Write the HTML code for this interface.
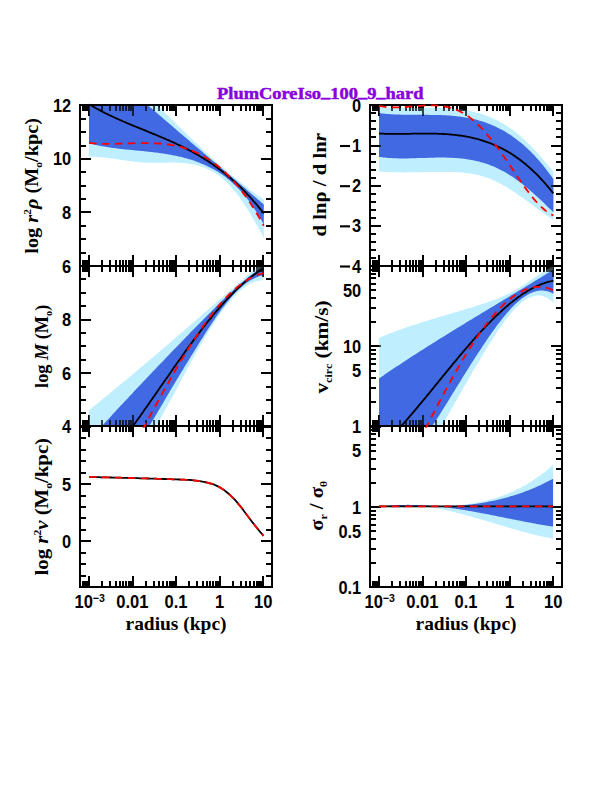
<!DOCTYPE html>
<html><head><meta charset="utf-8"><style>
html,body{margin:0;padding:0;background:#fff;overflow:hidden;}
svg{display:block;}
</style></head><body>
<svg width="612" height="792" viewBox="0 0 612 792">
<rect width="612" height="792" fill="#fff"/>
<path d="M83.00 266.00L83.00 260.00M83.00 105.00L83.00 111.00M85.00 266.00L85.00 260.00M85.00 105.00L85.00 111.00M87.00 266.00L87.00 260.00M87.00 105.00L87.00 111.00M89.00 266.00L89.00 255.00M89.00 105.00L89.00 116.00M102.00 266.00L102.00 260.00M102.00 105.00L102.00 111.00M110.00 266.00L110.00 260.00M110.00 105.00L110.00 111.00M116.00 266.00L116.00 260.00M116.00 105.00L116.00 111.00M120.00 266.00L120.00 260.00M120.00 105.00L120.00 111.00M123.00 266.00L123.00 260.00M123.00 105.00L123.00 111.00M126.00 266.00L126.00 260.00M126.00 105.00L126.00 111.00M129.00 266.00L129.00 260.00M129.00 105.00L129.00 111.00M131.00 266.00L131.00 260.00M131.00 105.00L131.00 111.00M133.00 266.00L133.00 255.00M133.00 105.00L133.00 116.00M146.00 266.00L146.00 260.00M146.00 105.00L146.00 111.00M154.00 266.00L154.00 260.00M154.00 105.00L154.00 111.00M159.00 266.00L159.00 260.00M159.00 105.00L159.00 111.00M163.00 266.00L163.00 260.00M163.00 105.00L163.00 111.00M167.00 266.00L167.00 260.00M167.00 105.00L167.00 111.00M170.00 266.00L170.00 260.00M170.00 105.00L170.00 111.00M172.00 266.00L172.00 260.00M172.00 105.00L172.00 111.00M174.00 266.00L174.00 260.00M174.00 105.00L174.00 111.00M176.00 266.00L176.00 255.00M176.00 105.00L176.00 116.00M189.00 266.00L189.00 260.00M189.00 105.00L189.00 111.00M197.00 266.00L197.00 260.00M197.00 105.00L197.00 111.00M203.00 266.00L203.00 260.00M203.00 105.00L203.00 111.00M207.00 266.00L207.00 260.00M207.00 105.00L207.00 111.00M210.00 266.00L210.00 260.00M210.00 105.00L210.00 111.00M213.00 266.00L213.00 260.00M213.00 105.00L213.00 111.00M216.00 266.00L216.00 260.00M216.00 105.00L216.00 111.00M218.00 266.00L218.00 260.00M218.00 105.00L218.00 111.00M220.00 266.00L220.00 255.00M220.00 105.00L220.00 116.00M233.00 266.00L233.00 260.00M233.00 105.00L233.00 111.00M241.00 266.00L241.00 260.00M241.00 105.00L241.00 111.00M246.00 266.00L246.00 260.00M246.00 105.00L246.00 111.00M250.00 266.00L250.00 260.00M250.00 105.00L250.00 111.00M254.00 266.00L254.00 260.00M254.00 105.00L254.00 111.00M257.00 266.00L257.00 260.00M257.00 105.00L257.00 111.00M259.00 266.00L259.00 260.00M259.00 105.00L259.00 111.00M261.00 266.00L261.00 260.00M261.00 105.00L261.00 111.00M263.00 266.00L263.00 255.00M263.00 105.00L263.00 116.00M80.00 266.00L91.00 266.00M272.00 266.00L261.00 266.00M80.00 253.00L86.00 253.00M272.00 253.00L266.00 253.00M80.00 239.00L86.00 239.00M272.00 239.00L266.00 239.00M80.00 226.00L86.00 226.00M272.00 226.00L266.00 226.00M80.00 212.00L91.00 212.00M272.00 212.00L261.00 212.00M80.00 199.00L86.00 199.00M272.00 199.00L266.00 199.00M80.00 186.00L86.00 186.00M272.00 186.00L266.00 186.00M80.00 172.00L86.00 172.00M272.00 172.00L266.00 172.00M80.00 159.00L91.00 159.00M272.00 159.00L261.00 159.00M80.00 146.00L86.00 146.00M272.00 146.00L266.00 146.00M80.00 132.00L86.00 132.00M272.00 132.00L266.00 132.00M80.00 119.00L86.00 119.00M272.00 119.00L266.00 119.00M80.00 105.00L91.00 105.00M272.00 105.00L261.00 105.00M83.00 426.00L83.00 420.00M83.00 266.00L83.00 272.00M85.00 426.00L85.00 420.00M85.00 266.00L85.00 272.00M87.00 426.00L87.00 420.00M87.00 266.00L87.00 272.00M89.00 426.00L89.00 415.00M89.00 266.00L89.00 277.00M102.00 426.00L102.00 420.00M102.00 266.00L102.00 272.00M110.00 426.00L110.00 420.00M110.00 266.00L110.00 272.00M116.00 426.00L116.00 420.00M116.00 266.00L116.00 272.00M120.00 426.00L120.00 420.00M120.00 266.00L120.00 272.00M123.00 426.00L123.00 420.00M123.00 266.00L123.00 272.00M126.00 426.00L126.00 420.00M126.00 266.00L126.00 272.00M129.00 426.00L129.00 420.00M129.00 266.00L129.00 272.00M131.00 426.00L131.00 420.00M131.00 266.00L131.00 272.00M133.00 426.00L133.00 415.00M133.00 266.00L133.00 277.00M146.00 426.00L146.00 420.00M146.00 266.00L146.00 272.00M154.00 426.00L154.00 420.00M154.00 266.00L154.00 272.00M159.00 426.00L159.00 420.00M159.00 266.00L159.00 272.00M163.00 426.00L163.00 420.00M163.00 266.00L163.00 272.00M167.00 426.00L167.00 420.00M167.00 266.00L167.00 272.00M170.00 426.00L170.00 420.00M170.00 266.00L170.00 272.00M172.00 426.00L172.00 420.00M172.00 266.00L172.00 272.00M174.00 426.00L174.00 420.00M174.00 266.00L174.00 272.00M176.00 426.00L176.00 415.00M176.00 266.00L176.00 277.00M189.00 426.00L189.00 420.00M189.00 266.00L189.00 272.00M197.00 426.00L197.00 420.00M197.00 266.00L197.00 272.00M203.00 426.00L203.00 420.00M203.00 266.00L203.00 272.00M207.00 426.00L207.00 420.00M207.00 266.00L207.00 272.00M210.00 426.00L210.00 420.00M210.00 266.00L210.00 272.00M213.00 426.00L213.00 420.00M213.00 266.00L213.00 272.00M216.00 426.00L216.00 420.00M216.00 266.00L216.00 272.00M218.00 426.00L218.00 420.00M218.00 266.00L218.00 272.00M220.00 426.00L220.00 415.00M220.00 266.00L220.00 277.00M233.00 426.00L233.00 420.00M233.00 266.00L233.00 272.00M241.00 426.00L241.00 420.00M241.00 266.00L241.00 272.00M246.00 426.00L246.00 420.00M246.00 266.00L246.00 272.00M250.00 426.00L250.00 420.00M250.00 266.00L250.00 272.00M254.00 426.00L254.00 420.00M254.00 266.00L254.00 272.00M257.00 426.00L257.00 420.00M257.00 266.00L257.00 272.00M259.00 426.00L259.00 420.00M259.00 266.00L259.00 272.00M261.00 426.00L261.00 420.00M261.00 266.00L261.00 272.00M263.00 426.00L263.00 415.00M263.00 266.00L263.00 277.00M80.00 427.00L91.00 427.00M272.00 427.00L261.00 427.00M80.00 413.00L86.00 413.00M272.00 413.00L266.00 413.00M80.00 400.00L86.00 400.00M272.00 400.00L266.00 400.00M80.00 387.00L86.00 387.00M272.00 387.00L266.00 387.00M80.00 373.00L91.00 373.00M272.00 373.00L261.00 373.00M80.00 360.00L86.00 360.00M272.00 360.00L266.00 360.00M80.00 346.00L86.00 346.00M272.00 346.00L266.00 346.00M80.00 333.00L86.00 333.00M272.00 333.00L266.00 333.00M80.00 320.00L91.00 320.00M272.00 320.00L261.00 320.00M80.00 306.00L86.00 306.00M272.00 306.00L266.00 306.00M80.00 293.00L86.00 293.00M272.00 293.00L266.00 293.00M80.00 279.00L86.00 279.00M272.00 279.00L266.00 279.00M80.00 266.00L91.00 266.00M272.00 266.00L261.00 266.00M83.00 587.00L83.00 581.00M83.00 426.00L83.00 432.00M85.00 587.00L85.00 581.00M85.00 426.00L85.00 432.00M87.00 587.00L87.00 581.00M87.00 426.00L87.00 432.00M89.00 587.00L89.00 576.00M89.00 426.00L89.00 437.00M102.00 587.00L102.00 581.00M102.00 426.00L102.00 432.00M110.00 587.00L110.00 581.00M110.00 426.00L110.00 432.00M116.00 587.00L116.00 581.00M116.00 426.00L116.00 432.00M120.00 587.00L120.00 581.00M120.00 426.00L120.00 432.00M123.00 587.00L123.00 581.00M123.00 426.00L123.00 432.00M126.00 587.00L126.00 581.00M126.00 426.00L126.00 432.00M129.00 587.00L129.00 581.00M129.00 426.00L129.00 432.00M131.00 587.00L131.00 581.00M131.00 426.00L131.00 432.00M133.00 587.00L133.00 576.00M133.00 426.00L133.00 437.00M146.00 587.00L146.00 581.00M146.00 426.00L146.00 432.00M154.00 587.00L154.00 581.00M154.00 426.00L154.00 432.00M159.00 587.00L159.00 581.00M159.00 426.00L159.00 432.00M163.00 587.00L163.00 581.00M163.00 426.00L163.00 432.00M167.00 587.00L167.00 581.00M167.00 426.00L167.00 432.00M170.00 587.00L170.00 581.00M170.00 426.00L170.00 432.00M172.00 587.00L172.00 581.00M172.00 426.00L172.00 432.00M174.00 587.00L174.00 581.00M174.00 426.00L174.00 432.00M176.00 587.00L176.00 576.00M176.00 426.00L176.00 437.00M189.00 587.00L189.00 581.00M189.00 426.00L189.00 432.00M197.00 587.00L197.00 581.00M197.00 426.00L197.00 432.00M203.00 587.00L203.00 581.00M203.00 426.00L203.00 432.00M207.00 587.00L207.00 581.00M207.00 426.00L207.00 432.00M210.00 587.00L210.00 581.00M210.00 426.00L210.00 432.00M213.00 587.00L213.00 581.00M213.00 426.00L213.00 432.00M216.00 587.00L216.00 581.00M216.00 426.00L216.00 432.00M218.00 587.00L218.00 581.00M218.00 426.00L218.00 432.00M220.00 587.00L220.00 576.00M220.00 426.00L220.00 437.00M233.00 587.00L233.00 581.00M233.00 426.00L233.00 432.00M241.00 587.00L241.00 581.00M241.00 426.00L241.00 432.00M246.00 587.00L246.00 581.00M246.00 426.00L246.00 432.00M250.00 587.00L250.00 581.00M250.00 426.00L250.00 432.00M254.00 587.00L254.00 581.00M254.00 426.00L254.00 432.00M257.00 587.00L257.00 581.00M257.00 426.00L257.00 432.00M259.00 587.00L259.00 581.00M259.00 426.00L259.00 432.00M261.00 587.00L261.00 581.00M261.00 426.00L261.00 432.00M263.00 587.00L263.00 576.00M263.00 426.00L263.00 437.00M80.00 587.00L86.00 587.00M272.00 587.00L266.00 587.00M80.00 576.00L86.00 576.00M272.00 576.00L266.00 576.00M80.00 564.00L86.00 564.00M272.00 564.00L266.00 564.00M80.00 553.00L86.00 553.00M272.00 553.00L266.00 553.00M80.00 541.00L91.00 541.00M272.00 541.00L261.00 541.00M80.00 530.00L86.00 530.00M272.00 530.00L266.00 530.00M80.00 518.00L86.00 518.00M272.00 518.00L266.00 518.00M80.00 507.00L86.00 507.00M272.00 507.00L266.00 507.00M80.00 496.00L86.00 496.00M272.00 496.00L266.00 496.00M80.00 484.00L91.00 484.00M272.00 484.00L261.00 484.00M80.00 473.00L86.00 473.00M272.00 473.00L266.00 473.00M80.00 461.00L86.00 461.00M272.00 461.00L266.00 461.00M80.00 450.00L86.00 450.00M272.00 450.00L266.00 450.00M80.00 438.00L86.00 438.00M272.00 438.00L266.00 438.00M80.00 427.00L91.00 427.00M272.00 427.00L261.00 427.00M373.00 266.00L373.00 260.00M373.00 105.00L373.00 111.00M375.00 266.00L375.00 260.00M375.00 105.00L375.00 111.00M377.00 266.00L377.00 260.00M377.00 105.00L377.00 111.00M379.00 266.00L379.00 255.00M379.00 105.00L379.00 116.00M392.00 266.00L392.00 260.00M392.00 105.00L392.00 111.00M400.00 266.00L400.00 260.00M400.00 105.00L400.00 111.00M406.00 266.00L406.00 260.00M406.00 105.00L406.00 111.00M410.00 266.00L410.00 260.00M410.00 105.00L410.00 111.00M413.00 266.00L413.00 260.00M413.00 105.00L413.00 111.00M416.00 266.00L416.00 260.00M416.00 105.00L416.00 111.00M419.00 266.00L419.00 260.00M419.00 105.00L419.00 111.00M421.00 266.00L421.00 260.00M421.00 105.00L421.00 111.00M423.00 266.00L423.00 255.00M423.00 105.00L423.00 116.00M436.00 266.00L436.00 260.00M436.00 105.00L436.00 111.00M444.00 266.00L444.00 260.00M444.00 105.00L444.00 111.00M449.00 266.00L449.00 260.00M449.00 105.00L449.00 111.00M453.00 266.00L453.00 260.00M453.00 105.00L453.00 111.00M457.00 266.00L457.00 260.00M457.00 105.00L457.00 111.00M460.00 266.00L460.00 260.00M460.00 105.00L460.00 111.00M462.00 266.00L462.00 260.00M462.00 105.00L462.00 111.00M464.00 266.00L464.00 260.00M464.00 105.00L464.00 111.00M466.00 266.00L466.00 255.00M466.00 105.00L466.00 116.00M479.00 266.00L479.00 260.00M479.00 105.00L479.00 111.00M487.00 266.00L487.00 260.00M487.00 105.00L487.00 111.00M493.00 266.00L493.00 260.00M493.00 105.00L493.00 111.00M497.00 266.00L497.00 260.00M497.00 105.00L497.00 111.00M500.00 266.00L500.00 260.00M500.00 105.00L500.00 111.00M503.00 266.00L503.00 260.00M503.00 105.00L503.00 111.00M506.00 266.00L506.00 260.00M506.00 105.00L506.00 111.00M508.00 266.00L508.00 260.00M508.00 105.00L508.00 111.00M510.00 266.00L510.00 255.00M510.00 105.00L510.00 116.00M523.00 266.00L523.00 260.00M523.00 105.00L523.00 111.00M531.00 266.00L531.00 260.00M531.00 105.00L531.00 111.00M536.00 266.00L536.00 260.00M536.00 105.00L536.00 111.00M540.00 266.00L540.00 260.00M540.00 105.00L540.00 111.00M544.00 266.00L544.00 260.00M544.00 105.00L544.00 111.00M547.00 266.00L547.00 260.00M547.00 105.00L547.00 111.00M549.00 266.00L549.00 260.00M549.00 105.00L549.00 111.00M551.00 266.00L551.00 260.00M551.00 105.00L551.00 111.00M553.00 266.00L553.00 255.00M553.00 105.00L553.00 116.00M370.00 266.00L381.00 266.00M562.00 266.00L551.00 266.00M370.00 258.00L376.00 258.00M562.00 258.00L556.00 258.00M370.00 250.00L376.00 250.00M562.00 250.00L556.00 250.00M370.00 242.00L376.00 242.00M562.00 242.00L556.00 242.00M370.00 234.00L376.00 234.00M562.00 234.00L556.00 234.00M370.00 226.00L381.00 226.00M562.00 226.00L551.00 226.00M370.00 218.00L376.00 218.00M562.00 218.00L556.00 218.00M370.00 210.00L376.00 210.00M562.00 210.00L556.00 210.00M370.00 202.00L376.00 202.00M562.00 202.00L556.00 202.00M370.00 194.00L376.00 194.00M562.00 194.00L556.00 194.00M370.00 186.00L381.00 186.00M562.00 186.00L551.00 186.00M370.00 178.00L376.00 178.00M562.00 178.00L556.00 178.00M370.00 170.00L376.00 170.00M562.00 170.00L556.00 170.00M370.00 162.00L376.00 162.00M562.00 162.00L556.00 162.00M370.00 154.00L376.00 154.00M562.00 154.00L556.00 154.00M370.00 146.00L381.00 146.00M562.00 146.00L551.00 146.00M370.00 137.00L376.00 137.00M562.00 137.00L556.00 137.00M370.00 129.00L376.00 129.00M562.00 129.00L556.00 129.00M370.00 121.00L376.00 121.00M562.00 121.00L556.00 121.00M370.00 113.00L376.00 113.00M562.00 113.00L556.00 113.00M370.00 105.00L381.00 105.00M562.00 105.00L551.00 105.00M373.00 426.00L373.00 420.00M373.00 266.00L373.00 272.00M375.00 426.00L375.00 420.00M375.00 266.00L375.00 272.00M377.00 426.00L377.00 420.00M377.00 266.00L377.00 272.00M379.00 426.00L379.00 415.00M379.00 266.00L379.00 277.00M392.00 426.00L392.00 420.00M392.00 266.00L392.00 272.00M400.00 426.00L400.00 420.00M400.00 266.00L400.00 272.00M406.00 426.00L406.00 420.00M406.00 266.00L406.00 272.00M410.00 426.00L410.00 420.00M410.00 266.00L410.00 272.00M413.00 426.00L413.00 420.00M413.00 266.00L413.00 272.00M416.00 426.00L416.00 420.00M416.00 266.00L416.00 272.00M419.00 426.00L419.00 420.00M419.00 266.00L419.00 272.00M421.00 426.00L421.00 420.00M421.00 266.00L421.00 272.00M423.00 426.00L423.00 415.00M423.00 266.00L423.00 277.00M436.00 426.00L436.00 420.00M436.00 266.00L436.00 272.00M444.00 426.00L444.00 420.00M444.00 266.00L444.00 272.00M449.00 426.00L449.00 420.00M449.00 266.00L449.00 272.00M453.00 426.00L453.00 420.00M453.00 266.00L453.00 272.00M457.00 426.00L457.00 420.00M457.00 266.00L457.00 272.00M460.00 426.00L460.00 420.00M460.00 266.00L460.00 272.00M462.00 426.00L462.00 420.00M462.00 266.00L462.00 272.00M464.00 426.00L464.00 420.00M464.00 266.00L464.00 272.00M466.00 426.00L466.00 415.00M466.00 266.00L466.00 277.00M479.00 426.00L479.00 420.00M479.00 266.00L479.00 272.00M487.00 426.00L487.00 420.00M487.00 266.00L487.00 272.00M493.00 426.00L493.00 420.00M493.00 266.00L493.00 272.00M497.00 426.00L497.00 420.00M497.00 266.00L497.00 272.00M500.00 426.00L500.00 420.00M500.00 266.00L500.00 272.00M503.00 426.00L503.00 420.00M503.00 266.00L503.00 272.00M506.00 426.00L506.00 420.00M506.00 266.00L506.00 272.00M508.00 426.00L508.00 420.00M508.00 266.00L508.00 272.00M510.00 426.00L510.00 415.00M510.00 266.00L510.00 277.00M523.00 426.00L523.00 420.00M523.00 266.00L523.00 272.00M531.00 426.00L531.00 420.00M531.00 266.00L531.00 272.00M536.00 426.00L536.00 420.00M536.00 266.00L536.00 272.00M540.00 426.00L540.00 420.00M540.00 266.00L540.00 272.00M544.00 426.00L544.00 420.00M544.00 266.00L544.00 272.00M547.00 426.00L547.00 420.00M547.00 266.00L547.00 272.00M549.00 426.00L549.00 420.00M549.00 266.00L549.00 272.00M551.00 426.00L551.00 420.00M551.00 266.00L551.00 272.00M553.00 426.00L553.00 415.00M553.00 266.00L553.00 277.00M370.00 427.00L381.00 427.00M562.00 427.00L551.00 427.00M370.00 402.00L376.00 402.00M562.00 402.00L556.00 402.00M370.00 388.00L376.00 388.00M562.00 388.00L556.00 388.00M370.00 378.00L376.00 378.00M562.00 378.00L556.00 378.00M370.00 371.00L376.00 371.00M562.00 371.00L556.00 371.00M370.00 364.00L376.00 364.00M562.00 364.00L556.00 364.00M370.00 359.00L376.00 359.00M562.00 359.00L556.00 359.00M370.00 354.00L376.00 354.00M562.00 354.00L556.00 354.00M370.00 350.00L376.00 350.00M562.00 350.00L556.00 350.00M370.00 346.00L381.00 346.00M562.00 346.00L551.00 346.00M370.00 322.00L376.00 322.00M562.00 322.00L556.00 322.00M370.00 308.00L376.00 308.00M562.00 308.00L556.00 308.00M370.00 298.00L376.00 298.00M562.00 298.00L556.00 298.00M370.00 290.00L376.00 290.00M562.00 290.00L556.00 290.00M370.00 284.00L376.00 284.00M562.00 284.00L556.00 284.00M370.00 278.00L376.00 278.00M562.00 278.00L556.00 278.00M370.00 274.00L376.00 274.00M562.00 274.00L556.00 274.00M370.00 270.00L376.00 270.00M562.00 270.00L556.00 270.00M370.00 266.00L381.00 266.00M562.00 266.00L551.00 266.00M373.00 587.00L373.00 581.00M373.00 426.00L373.00 432.00M375.00 587.00L375.00 581.00M375.00 426.00L375.00 432.00M377.00 587.00L377.00 581.00M377.00 426.00L377.00 432.00M379.00 587.00L379.00 576.00M379.00 426.00L379.00 437.00M392.00 587.00L392.00 581.00M392.00 426.00L392.00 432.00M400.00 587.00L400.00 581.00M400.00 426.00L400.00 432.00M406.00 587.00L406.00 581.00M406.00 426.00L406.00 432.00M410.00 587.00L410.00 581.00M410.00 426.00L410.00 432.00M413.00 587.00L413.00 581.00M413.00 426.00L413.00 432.00M416.00 587.00L416.00 581.00M416.00 426.00L416.00 432.00M419.00 587.00L419.00 581.00M419.00 426.00L419.00 432.00M421.00 587.00L421.00 581.00M421.00 426.00L421.00 432.00M423.00 587.00L423.00 576.00M423.00 426.00L423.00 437.00M436.00 587.00L436.00 581.00M436.00 426.00L436.00 432.00M444.00 587.00L444.00 581.00M444.00 426.00L444.00 432.00M449.00 587.00L449.00 581.00M449.00 426.00L449.00 432.00M453.00 587.00L453.00 581.00M453.00 426.00L453.00 432.00M457.00 587.00L457.00 581.00M457.00 426.00L457.00 432.00M460.00 587.00L460.00 581.00M460.00 426.00L460.00 432.00M462.00 587.00L462.00 581.00M462.00 426.00L462.00 432.00M464.00 587.00L464.00 581.00M464.00 426.00L464.00 432.00M466.00 587.00L466.00 576.00M466.00 426.00L466.00 437.00M479.00 587.00L479.00 581.00M479.00 426.00L479.00 432.00M487.00 587.00L487.00 581.00M487.00 426.00L487.00 432.00M493.00 587.00L493.00 581.00M493.00 426.00L493.00 432.00M497.00 587.00L497.00 581.00M497.00 426.00L497.00 432.00M500.00 587.00L500.00 581.00M500.00 426.00L500.00 432.00M503.00 587.00L503.00 581.00M503.00 426.00L503.00 432.00M506.00 587.00L506.00 581.00M506.00 426.00L506.00 432.00M508.00 587.00L508.00 581.00M508.00 426.00L508.00 432.00M510.00 587.00L510.00 576.00M510.00 426.00L510.00 437.00M523.00 587.00L523.00 581.00M523.00 426.00L523.00 432.00M531.00 587.00L531.00 581.00M531.00 426.00L531.00 432.00M536.00 587.00L536.00 581.00M536.00 426.00L536.00 432.00M540.00 587.00L540.00 581.00M540.00 426.00L540.00 432.00M544.00 587.00L544.00 581.00M544.00 426.00L544.00 432.00M547.00 587.00L547.00 581.00M547.00 426.00L547.00 432.00M549.00 587.00L549.00 581.00M549.00 426.00L549.00 432.00M551.00 587.00L551.00 581.00M551.00 426.00L551.00 432.00M553.00 587.00L553.00 576.00M553.00 426.00L553.00 437.00M370.00 587.00L381.00 587.00M562.00 587.00L551.00 587.00M370.00 563.00L376.00 563.00M562.00 563.00L556.00 563.00M370.00 549.00L376.00 549.00M562.00 549.00L556.00 549.00M370.00 539.00L376.00 539.00M562.00 539.00L556.00 539.00M370.00 531.00L376.00 531.00M562.00 531.00L556.00 531.00M370.00 525.00L376.00 525.00M562.00 525.00L556.00 525.00M370.00 519.00L376.00 519.00M562.00 519.00L556.00 519.00M370.00 515.00L376.00 515.00M562.00 515.00L556.00 515.00M370.00 511.00L376.00 511.00M562.00 511.00L556.00 511.00M370.00 507.00L381.00 507.00M562.00 507.00L551.00 507.00M370.00 483.00L376.00 483.00M562.00 483.00L556.00 483.00M370.00 469.00L376.00 469.00M562.00 469.00L556.00 469.00M370.00 459.00L376.00 459.00M562.00 459.00L556.00 459.00M370.00 451.00L376.00 451.00M562.00 451.00L556.00 451.00M370.00 445.00L376.00 445.00M562.00 445.00L556.00 445.00M370.00 439.00L376.00 439.00M562.00 439.00L556.00 439.00M370.00 434.00L376.00 434.00M562.00 434.00L556.00 434.00M370.00 430.00L376.00 430.00M562.00 430.00L556.00 430.00M370.00 427.00L381.00 427.00M562.00 427.00L551.00 427.00" stroke="#000" stroke-width="2" fill="none"/>
<defs><clipPath id="c00"><rect x="80" y="105" width="192.00" height="160.67"/></clipPath><clipPath id="kc00"><rect x="78.5" y="103.5" width="195.00" height="163.67"/></clipPath><clipPath id="c10"><rect x="80" y="265.67" width="192.00" height="160.66"/></clipPath><clipPath id="kc10"><rect x="78.5" y="264.17" width="195.00" height="163.66"/></clipPath><clipPath id="c20"><rect x="80" y="426.33" width="192.00" height="160.67"/></clipPath><clipPath id="kc20"><rect x="78.5" y="424.83" width="195.00" height="163.67"/></clipPath><clipPath id="c01"><rect x="370" y="105" width="192.00" height="160.67"/></clipPath><clipPath id="kc01"><rect x="368.5" y="103.5" width="195.00" height="163.67"/></clipPath><clipPath id="c11"><rect x="370" y="265.67" width="192.00" height="160.66"/></clipPath><clipPath id="kc11"><rect x="368.5" y="264.17" width="195.00" height="163.66"/></clipPath><clipPath id="c21"><rect x="370" y="426.33" width="192.00" height="160.67"/></clipPath><clipPath id="kc21"><rect x="368.5" y="424.83" width="195.00" height="163.67"/></clipPath></defs><g clip-path="url(#c00)"><polygon points="89.0,39.2 90.5,40.5 92.0,41.8 93.5,43.2 95.0,44.5 96.5,45.9 98.0,47.3 99.5,48.6 101.0,50.0 102.4,51.4 103.9,52.8 105.4,54.2 106.9,55.6 108.4,57.0 109.9,58.4 111.4,59.8 112.9,61.3 114.4,62.7 115.9,64.1 117.4,65.6 118.9,67.0 120.4,68.5 121.9,69.9 123.4,71.4 124.9,72.8 126.4,74.3 127.8,75.7 129.3,77.2 130.8,78.7 132.3,80.2 133.8,81.6 135.3,83.1 136.8,84.6 138.3,86.1 139.8,87.6 141.3,89.0 142.8,90.5 144.3,92.0 145.8,93.5 147.3,95.0 148.8,96.5 150.3,98.0 151.7,99.5 153.2,101.0 154.7,102.5 156.2,103.9 157.7,105.4 159.2,106.9 160.7,108.4 162.2,109.9 163.7,111.4 165.2,112.9 166.7,114.4 168.2,115.8 169.7,117.3 171.2,118.8 172.7,120.3 174.2,121.8 175.7,123.2 177.1,124.7 178.6,126.2 180.1,127.6 181.6,129.1 183.1,130.6 184.6,132.0 186.1,133.5 187.6,134.9 189.1,136.4 190.6,137.8 192.1,139.2 193.6,140.7 195.1,142.1 196.6,143.5 198.1,144.9 199.6,146.3 201.1,147.8 202.5,149.2 204.0,150.5 205.5,151.9 207.0,153.3 208.5,154.7 210.0,156.1 211.5,157.4 213.0,158.8 214.5,160.1 216.0,161.5 217.5,162.8 219.0,164.1 220.5,165.5 222.0,166.8 223.5,168.1 225.0,169.4 226.4,170.7 227.9,171.9 229.4,173.2 230.9,174.5 232.4,175.7 233.9,177.0 235.4,178.2 236.9,179.4 238.4,180.6 239.9,181.8 241.4,183.0 242.9,184.2 244.4,185.4 245.9,186.6 247.4,187.7 248.9,188.9 250.4,190.0 251.8,191.1 253.3,192.2 254.8,193.3 256.3,194.4 257.8,195.5 259.3,196.5 260.8,197.6 262.3,198.6 263.8,199.6 263.8,237.9 262.3,235.1 260.8,232.3 259.3,229.6 257.8,226.9 256.3,224.2 254.8,221.6 253.3,219.0 251.8,216.5 250.4,214.0 248.9,211.5 247.4,209.1 245.9,206.8 244.4,204.5 242.9,202.3 241.4,200.1 239.9,198.0 238.4,196.0 236.9,194.0 235.4,192.1 233.9,190.2 232.4,188.4 230.9,186.8 229.4,185.1 227.9,183.6 226.4,182.1 225.0,180.7 223.5,179.4 222.0,178.1 220.5,176.9 219.0,175.8 217.5,174.7 216.0,173.7 214.5,172.7 213.0,171.8 211.5,171.0 210.0,170.2 208.5,169.5 207.0,168.8 205.5,168.2 204.0,167.6 202.5,167.0 201.1,166.5 199.6,166.0 198.1,165.6 196.6,165.2 195.1,164.8 193.6,164.5 192.1,164.2 190.6,164.0 189.1,163.7 187.6,163.5 186.1,163.3 184.6,163.2 183.1,163.0 181.6,162.9 180.1,162.8 178.6,162.8 177.1,162.7 175.7,162.7 174.2,162.6 172.7,162.6 171.2,162.6 169.7,162.6 168.2,162.6 166.7,162.7 165.2,162.7 163.7,162.7 162.2,162.7 160.7,162.8 159.2,162.8 157.7,162.8 156.2,162.8 154.7,162.8 153.2,162.8 151.7,162.8 150.3,162.8 148.8,162.8 147.3,162.7 145.8,162.7 144.3,162.6 142.8,162.5 141.3,162.4 139.8,162.3 138.3,162.1 136.8,162.0 135.3,161.8 133.8,161.6 132.3,161.5 130.8,161.3 129.3,161.1 127.8,160.8 126.4,160.6 124.9,160.4 123.4,160.2 121.9,160.0 120.4,159.7 118.9,159.5 117.4,159.3 115.9,159.1 114.4,158.8 112.9,158.6 111.4,158.4 109.9,158.2 108.4,158.0 106.9,157.8 105.4,157.7 103.9,157.5 102.4,157.3 101.0,157.2 99.5,157.1 98.0,157.0 96.5,156.9 95.0,156.8 93.5,156.8 92.0,156.7 90.5,156.7 89.0,156.7" fill="#bfefff"/><polygon points="89.0,53.9 90.5,55.2 92.0,56.6 93.5,57.9 95.0,59.2 96.5,60.5 98.0,61.8 99.5,63.2 101.0,64.5 102.4,65.8 103.9,67.1 105.4,68.4 106.9,69.7 108.4,71.0 109.9,72.3 111.4,73.7 112.9,75.0 114.4,76.3 115.9,77.6 117.4,78.9 118.9,80.2 120.4,81.5 121.9,82.8 123.4,84.1 124.9,85.4 126.4,86.7 127.8,88.0 129.3,89.3 130.8,90.6 132.3,91.9 133.8,93.2 135.3,94.5 136.8,95.8 138.3,97.0 139.8,98.3 141.3,99.6 142.8,100.9 144.3,102.2 145.8,103.5 147.3,104.8 148.8,106.1 150.3,107.4 151.7,108.6 153.2,109.9 154.7,111.2 156.2,112.5 157.7,113.8 159.2,115.1 160.7,116.3 162.2,117.6 163.7,118.9 165.2,120.2 166.7,121.5 168.2,122.7 169.7,124.0 171.2,125.3 172.7,126.6 174.2,127.9 175.7,129.1 177.1,130.4 178.6,131.7 180.1,133.0 181.6,134.2 183.1,135.5 184.6,136.8 186.1,138.1 187.6,139.3 189.1,140.6 190.6,141.9 192.1,143.2 193.6,144.4 195.1,145.7 196.6,147.0 198.1,148.3 199.6,149.5 201.1,150.8 202.5,152.1 204.0,153.4 205.5,154.6 207.0,155.9 208.5,157.2 210.0,158.5 211.5,159.7 213.0,161.0 214.5,162.3 216.0,163.6 217.5,164.8 219.0,166.1 220.5,167.4 222.0,168.7 223.5,169.9 225.0,171.2 226.4,172.5 227.9,173.8 229.4,175.0 230.9,176.3 232.4,177.6 233.9,178.9 235.4,180.1 236.9,181.4 238.4,182.7 239.9,184.0 241.4,185.3 242.9,186.5 244.4,187.8 245.9,189.1 247.4,190.4 248.9,191.7 250.4,192.9 251.8,194.2 253.3,195.5 254.8,196.8 256.3,198.1 257.8,199.4 259.3,200.6 260.8,201.9 262.3,203.2 263.8,204.5 263.8,224.4 262.3,221.7 260.8,219.1 259.3,216.6 257.8,214.2 256.3,211.8 254.8,209.5 253.3,207.2 251.8,205.1 250.4,203.0 248.9,201.0 247.4,199.0 245.9,197.1 244.4,195.3 242.9,193.5 241.4,191.8 239.9,190.2 238.4,188.6 236.9,187.1 235.4,185.6 233.9,184.2 232.4,182.8 230.9,181.5 229.4,180.2 227.9,179.0 226.4,177.8 225.0,176.6 223.5,175.6 222.0,174.5 220.5,173.5 219.0,172.5 217.5,171.6 216.0,170.7 214.5,169.8 213.0,169.0 211.5,168.2 210.0,167.4 208.5,166.7 207.0,166.0 205.5,165.3 204.0,164.6 202.5,164.0 201.1,163.4 199.6,162.8 198.1,162.2 196.6,161.7 195.1,161.1 193.6,160.6 192.1,160.1 190.6,159.6 189.1,159.2 187.6,158.7 186.1,158.3 184.6,157.9 183.1,157.5 181.6,157.1 180.1,156.8 178.6,156.4 177.1,156.1 175.7,155.8 174.2,155.5 172.7,155.2 171.2,154.9 169.7,154.6 168.2,154.4 166.7,154.1 165.2,153.9 163.7,153.6 162.2,153.4 160.7,153.2 159.2,153.0 157.7,152.8 156.2,152.6 154.7,152.4 153.2,152.2 151.7,152.1 150.3,151.9 148.8,151.7 147.3,151.6 145.8,151.4 144.3,151.3 142.8,151.1 141.3,151.0 139.8,150.8 138.3,150.7 136.8,150.6 135.3,150.4 133.8,150.3 132.3,150.1 130.8,150.0 129.3,149.8 127.8,149.7 126.4,149.5 124.9,149.4 123.4,149.2 121.9,149.1 120.4,148.9 118.9,148.7 117.4,148.5 115.9,148.3 114.4,148.1 112.9,147.9 111.4,147.7 109.9,147.5 108.4,147.3 106.9,147.1 105.4,146.8 103.9,146.6 102.4,146.3 101.0,146.0 99.5,145.7 98.0,145.4 96.5,145.1 95.0,144.8 93.5,144.5 92.0,144.1 90.5,143.7 89.0,143.3" fill="#4169e1"/></g><g clip-path="url(#c10)"><polygon points="89.0,410.2 90.5,409.0 92.0,407.8 93.5,406.6 95.0,405.4 96.5,404.2 97.9,403.0 99.4,401.8 100.9,400.6 102.4,399.3 103.9,398.1 105.4,396.9 106.9,395.7 108.4,394.5 109.9,393.2 111.4,392.0 112.9,390.8 114.4,389.6 115.8,388.3 117.3,387.1 118.8,385.9 120.3,384.6 121.8,383.4 123.3,382.1 124.8,380.9 126.3,379.7 127.8,378.4 129.3,377.2 130.8,375.9 132.3,374.7 133.7,373.4 135.2,372.2 136.7,370.9 138.2,369.6 139.7,368.4 141.2,367.1 142.7,365.9 144.2,364.6 145.7,363.3 147.2,362.1 148.7,360.8 150.1,359.5 151.6,358.3 153.1,357.0 154.6,355.7 156.1,354.5 157.6,353.2 159.1,351.9 160.6,350.6 162.1,349.4 163.6,348.1 165.1,346.8 166.6,345.5 168.0,344.2 169.5,343.0 171.0,341.7 172.5,340.4 174.0,339.1 175.5,337.8 177.0,336.5 178.5,335.2 180.0,334.0 181.5,332.7 183.0,331.4 184.5,330.1 185.9,328.8 187.4,327.5 188.9,326.2 190.4,324.9 191.9,323.6 193.4,322.4 194.9,321.1 196.4,319.8 197.9,318.5 199.4,317.2 200.9,315.9 202.4,314.6 203.8,313.3 205.3,312.0 206.8,310.7 208.3,309.4 209.8,308.1 211.3,306.8 212.8,305.5 214.3,304.2 215.8,302.9 217.3,301.7 218.8,300.4 220.2,299.1 221.7,297.8 223.2,296.5 224.7,295.2 226.2,293.9 227.7,292.6 229.2,291.3 230.7,290.0 232.2,288.7 233.7,287.4 235.2,286.1 236.7,284.8 238.1,283.6 239.6,282.3 241.1,281.0 242.6,279.7 244.1,278.4 245.6,277.1 247.1,275.8 248.6,274.5 250.1,273.3 251.6,272.0 253.1,270.7 254.6,269.4 256.0,268.1 257.5,266.8 259.0,265.6 260.5,264.3 262.0,263.0 263.5,261.7 263.5,280.3 262.0,280.3 260.5,280.4 259.0,280.6 257.5,280.9 256.0,281.3 254.5,281.8 253.0,282.4 251.6,283.0 250.1,283.8 248.6,284.6 247.1,285.5 245.6,286.5 244.1,287.6 242.6,288.7 241.1,289.9 239.6,291.2 238.1,292.6 236.6,294.0 235.1,295.5 233.6,297.1 232.1,298.7 230.6,300.4 229.1,302.2 227.7,304.0 226.2,305.8 224.7,307.8 223.2,309.7 221.7,311.8 220.2,313.8 218.7,316.0 217.2,318.1 215.7,320.4 214.2,322.6 212.7,324.9 211.2,327.3 209.7,329.7 208.2,332.1 206.7,334.6 205.2,337.0 203.8,339.6 202.3,342.1 200.8,344.7 199.3,347.3 197.8,349.9 196.3,352.6 194.8,355.3 193.3,358.0 191.8,360.7 190.3,363.4 188.8,366.1 187.3,368.9 185.8,371.7 184.3,374.4 182.8,377.2 181.4,380.0 179.9,382.8 178.4,385.6 176.9,388.4 175.4,391.2 173.9,394.0 172.4,396.8 170.9,399.6 169.4,402.3 167.9,405.1 166.4,407.8 164.9,410.6 163.4,413.3 161.9,416.0 160.4,418.7 158.9,421.4 157.5,424.0 156.0,426.6 154.5,429.2 153.0,431.8 151.5,434.4 150.0,436.9 148.5,439.3 147.0,441.8 89.0,441.0" fill="#bfefff"/><polygon points="89.0,440.0 90.5,438.4 92.0,436.7 93.5,435.1 95.0,433.5 96.5,431.9 97.9,430.3 99.4,428.6 100.9,427.0 102.4,425.4 103.9,423.8 105.4,422.2 106.9,420.6 108.4,419.0 109.9,417.4 111.4,415.8 112.9,414.1 114.4,412.5 115.8,410.9 117.3,409.3 118.8,407.7 120.3,406.1 121.8,404.5 123.3,402.9 124.8,401.3 126.3,399.8 127.8,398.2 129.3,396.6 130.8,395.0 132.3,393.4 133.7,391.8 135.2,390.2 136.7,388.6 138.2,387.1 139.7,385.5 141.2,383.9 142.7,382.3 144.2,380.7 145.7,379.2 147.2,377.6 148.7,376.0 150.1,374.4 151.6,372.9 153.1,371.3 154.6,369.7 156.1,368.2 157.6,366.6 159.1,365.0 160.6,363.5 162.1,361.9 163.6,360.4 165.1,358.8 166.6,357.3 168.0,355.7 169.5,354.2 171.0,352.6 172.5,351.1 174.0,349.5 175.5,348.0 177.0,346.4 178.5,344.9 180.0,343.4 181.5,341.8 183.0,340.3 184.5,338.8 185.9,337.2 187.4,335.7 188.9,334.2 190.4,332.6 191.9,331.1 193.4,329.6 194.9,328.1 196.4,326.6 197.9,325.0 199.4,323.5 200.9,322.0 202.4,320.5 203.8,319.0 205.3,317.5 206.8,316.0 208.3,314.5 209.8,313.0 211.3,311.5 212.8,310.0 214.3,308.5 215.8,307.0 217.3,305.5 218.8,304.1 220.2,302.6 221.7,301.1 223.2,299.7 224.7,298.2 226.2,296.8 227.7,295.4 229.2,294.0 230.7,292.6 232.2,291.2 233.7,289.8 235.2,288.5 236.7,287.1 238.1,285.8 239.6,284.5 241.1,283.2 242.6,281.9 244.1,280.7 245.6,279.4 247.1,278.2 248.6,277.0 250.1,275.8 251.6,274.7 253.1,273.5 254.6,272.4 256.0,271.4 257.5,270.3 259.0,269.3 260.5,268.3 262.0,267.3 263.5,266.3 263.5,275.0 262.0,275.4 260.5,275.8 259.0,276.3 257.5,276.9 256.1,277.5 254.6,278.2 253.1,278.9 251.6,279.7 250.1,280.6 248.6,281.6 247.1,282.6 245.6,283.6 244.2,284.8 242.7,286.0 241.2,287.2 239.7,288.5 238.2,289.9 236.7,291.3 235.2,292.8 233.7,294.4 232.3,296.0 230.8,297.7 229.3,299.4 227.8,301.2 226.3,303.0 224.8,304.9 223.3,306.9 221.8,308.8 220.3,310.9 218.9,313.0 217.4,315.1 215.9,317.2 214.4,319.4 212.9,321.7 211.4,323.9 209.9,326.2 208.4,328.5 207.0,330.8 205.5,333.1 204.0,335.5 202.5,337.9 201.0,340.2 199.5,342.6 198.0,345.0 196.5,347.4 195.1,349.8 193.6,352.2 192.1,354.6 190.6,357.0 189.1,359.4 187.6,361.9 186.1,364.3 184.6,366.7 183.2,369.2 181.7,371.6 180.2,374.1 178.7,376.6 177.2,379.1 175.7,381.5 174.2,384.0 172.7,386.6 171.2,389.1 169.8,391.6 168.3,394.1 166.8,396.6 165.3,399.1 163.8,401.7 162.3,404.2 160.8,406.7 159.3,409.2 157.9,411.7 156.4,414.2 154.9,416.7 153.4,419.2 151.9,421.7 150.4,424.2 148.9,426.7 147.4,429.1 146.0,431.6 144.5,434.0 143.0,436.5 141.5,438.9 140.0,441.3" fill="#4169e1"/></g><g clip-path="url(#c20)"></g><g clip-path="url(#c01)"><polygon points="379.0,106.2 380.5,106.4 382.0,106.6 383.5,106.8 385.0,107.0 386.5,107.1 387.9,107.3 389.4,107.4 390.9,107.5 392.4,107.6 393.9,107.7 395.4,107.8 396.9,107.9 398.4,107.9 399.9,108.0 401.4,108.0 402.8,108.0 404.3,108.1 405.8,108.1 407.3,108.1 408.8,108.1 410.3,108.1 411.8,108.1 413.3,108.1 414.8,108.1 416.3,108.1 417.8,108.1 419.2,108.1 420.7,108.1 422.2,108.0 423.7,108.0 425.2,108.0 426.7,108.0 428.2,108.0 429.7,108.0 431.2,108.0 432.7,108.0 434.2,108.0 435.6,108.0 437.1,108.0 438.6,108.0 440.1,108.1 441.6,108.1 443.1,108.1 444.6,108.2 446.1,108.3 447.6,108.3 449.1,108.4 450.5,108.5 452.0,108.6 453.5,108.7 455.0,108.9 456.5,109.0 458.0,109.2 459.5,109.3 461.0,109.5 462.5,109.7 464.0,110.0 465.5,110.2 466.9,110.5 468.4,110.7 469.9,111.0 471.4,111.3 472.9,111.7 474.4,112.0 475.9,112.4 477.4,112.8 478.9,113.2 480.4,113.6 481.9,114.1 483.3,114.6 484.8,115.1 486.3,115.7 487.8,116.2 489.3,116.8 490.8,117.4 492.3,118.1 493.8,118.7 495.3,119.4 496.8,120.2 498.2,120.9 499.7,121.7 501.2,122.6 502.7,123.4 504.2,124.3 505.7,125.2 507.2,126.2 508.7,127.2 510.2,128.2 511.7,129.2 513.2,130.3 514.6,131.5 516.1,132.6 517.6,133.8 519.1,135.1 520.6,136.3 522.1,137.7 523.6,139.0 525.1,140.4 526.6,141.8 528.1,143.3 529.6,144.7 531.0,146.3 532.5,147.8 534.0,149.4 535.5,151.0 537.0,152.6 538.5,154.2 540.0,155.9 541.5,157.6 543.0,159.3 544.5,161.0 545.9,162.7 547.4,164.5 548.9,166.2 550.4,168.0 551.9,169.8 553.4,171.6 553.4,220.1 551.9,219.1 550.4,218.1 548.9,217.1 547.4,216.0 545.9,215.0 544.5,213.9 543.0,212.8 541.5,211.7 540.0,210.7 538.5,209.6 537.0,208.5 535.5,207.4 534.0,206.2 532.5,205.1 531.0,204.0 529.6,202.9 528.1,201.8 526.6,200.7 525.1,199.7 523.6,198.6 522.1,197.5 520.6,196.4 519.1,195.4 517.6,194.4 516.1,193.3 514.6,192.3 513.2,191.3 511.7,190.3 510.2,189.4 508.7,188.4 507.2,187.5 505.7,186.6 504.2,185.7 502.7,184.9 501.2,184.1 499.7,183.3 498.2,182.5 496.8,181.8 495.3,181.0 493.8,180.4 492.3,179.7 490.8,179.1 489.3,178.5 487.8,178.0 486.3,177.5 484.8,177.0 483.3,176.5 481.9,176.1 480.4,175.7 478.9,175.3 477.4,175.0 475.9,174.6 474.4,174.3 472.9,174.0 471.4,173.8 469.9,173.5 468.4,173.3 466.9,173.1 465.5,172.9 464.0,172.8 462.5,172.6 461.0,172.5 459.5,172.4 458.0,172.3 456.5,172.2 455.0,172.1 453.5,172.1 452.0,172.0 450.5,172.0 449.1,171.9 447.6,171.9 446.1,171.9 444.6,171.9 443.1,171.9 441.6,171.9 440.1,171.9 438.6,171.9 437.1,171.9 435.6,171.9 434.2,171.9 432.7,171.9 431.2,172.0 429.7,172.0 428.2,172.0 426.7,172.0 425.2,172.1 423.7,172.1 422.2,172.1 420.7,172.2 419.2,172.2 417.8,172.2 416.3,172.2 414.8,172.3 413.3,172.3 411.8,172.3 410.3,172.3 408.8,172.3 407.3,172.3 405.8,172.3 404.3,172.4 402.8,172.4 401.4,172.3 399.9,172.3 398.4,172.3 396.9,172.3 395.4,172.3 393.9,172.2 392.4,172.2 390.9,172.1 389.4,172.1 387.9,172.0 386.5,172.0 385.0,171.9 383.5,171.8 382.0,171.7 380.5,171.6 379.0,171.5" fill="#bfefff"/><polygon points="379.0,113.1 380.5,113.2 382.0,113.4 383.5,113.6 385.0,113.7 386.5,113.9 387.9,114.0 389.4,114.1 390.9,114.2 392.4,114.3 393.9,114.4 395.4,114.5 396.9,114.5 398.4,114.6 399.9,114.6 401.4,114.7 402.8,114.7 404.3,114.7 405.8,114.8 407.3,114.8 408.8,114.8 410.3,114.8 411.8,114.8 413.3,114.8 414.8,114.8 416.3,114.8 417.8,114.8 419.2,114.8 420.7,114.8 422.2,114.8 423.7,114.8 425.2,114.8 426.7,114.8 428.2,114.8 429.7,114.9 431.2,114.9 432.7,114.9 434.2,114.9 435.6,114.9 437.1,115.0 438.6,115.0 440.1,115.1 441.6,115.1 443.1,115.2 444.6,115.3 446.1,115.3 447.6,115.4 449.1,115.5 450.5,115.6 452.0,115.8 453.5,115.9 455.0,116.0 456.5,116.2 458.0,116.4 459.5,116.6 461.0,116.7 462.5,117.0 464.0,117.2 465.5,117.4 466.9,117.7 468.4,118.0 469.9,118.3 471.4,118.6 472.9,118.9 474.4,119.3 475.9,119.6 477.4,120.0 478.9,120.5 480.4,120.9 481.9,121.3 483.3,121.8 484.8,122.3 486.3,122.8 487.8,123.4 489.3,124.0 490.8,124.6 492.3,125.2 493.8,125.8 495.3,126.5 496.8,127.2 498.2,127.9 499.7,128.7 501.2,129.5 502.7,130.3 504.2,131.1 505.7,132.0 507.2,132.9 508.7,133.9 510.2,134.8 511.7,135.8 513.2,136.9 514.6,137.9 516.1,139.0 517.6,140.2 519.1,141.4 520.6,142.6 522.1,143.8 523.6,145.1 525.1,146.4 526.6,147.8 528.1,149.2 529.6,150.6 531.0,152.1 532.5,153.6 534.0,155.1 535.5,156.7 537.0,158.4 538.5,160.0 540.0,161.8 541.5,163.5 543.0,165.3 544.5,167.2 545.9,169.1 547.4,171.0 548.9,173.0 550.4,175.0 551.9,177.1 553.4,179.2 553.4,212.2 551.9,210.8 550.4,209.3 548.9,207.9 547.4,206.4 545.9,205.0 544.5,203.6 543.0,202.1 541.5,200.7 540.0,199.3 538.5,197.9 537.0,196.6 535.5,195.2 534.0,193.9 532.5,192.5 531.0,191.2 529.6,189.9 528.1,188.7 526.6,187.4 525.1,186.2 523.6,185.0 522.1,183.8 520.6,182.7 519.1,181.5 517.6,180.4 516.1,179.4 514.6,178.3 513.2,177.3 511.7,176.3 510.2,175.4 508.7,174.4 507.2,173.5 505.7,172.6 504.2,171.8 502.7,171.0 501.2,170.2 499.7,169.4 498.2,168.7 496.8,168.0 495.3,167.3 493.8,166.6 492.3,166.0 490.8,165.4 489.3,164.8 487.8,164.3 486.3,163.8 484.8,163.3 483.3,162.8 481.9,162.4 480.4,162.0 478.9,161.6 477.4,161.2 475.9,160.9 474.4,160.5 472.9,160.2 471.4,160.0 469.9,159.7 468.4,159.4 466.9,159.2 465.5,159.0 464.0,158.8 462.5,158.6 461.0,158.5 459.5,158.3 458.0,158.2 456.5,158.1 455.0,158.0 453.5,157.9 452.0,157.8 450.5,157.8 449.1,157.7 447.6,157.7 446.1,157.6 444.6,157.6 443.1,157.6 441.6,157.6 440.1,157.6 438.6,157.6 437.1,157.6 435.6,157.6 434.2,157.7 432.7,157.7 431.2,157.7 429.7,157.8 428.2,157.8 426.7,157.9 425.2,157.9 423.7,158.0 422.2,158.0 420.7,158.0 419.2,158.1 417.8,158.1 416.3,158.2 414.8,158.2 413.3,158.3 411.8,158.3 410.3,158.3 408.8,158.4 407.3,158.4 405.8,158.4 404.3,158.4 402.8,158.4 401.4,158.4 399.9,158.4 398.4,158.4 396.9,158.3 395.4,158.3 393.9,158.2 392.4,158.2 390.9,158.1 389.4,158.0 387.9,157.9 386.5,157.8 385.0,157.6 383.5,157.5 382.0,157.3 380.5,157.1 379.0,156.9" fill="#4169e1"/></g><g clip-path="url(#c11)"><polygon points="379.0,337.8 380.5,337.2 382.0,336.6 383.5,336.0 385.0,335.4 386.5,334.8 387.9,334.2 389.4,333.6 390.9,333.0 392.4,332.5 393.9,331.9 395.4,331.4 396.9,330.8 398.4,330.3 399.9,329.7 401.4,329.2 402.8,328.7 404.3,328.2 405.8,327.6 407.3,327.1 408.8,326.6 410.3,326.1 411.8,325.6 413.3,325.1 414.8,324.7 416.3,324.2 417.8,323.7 419.2,323.2 420.7,322.7 422.2,322.3 423.7,321.8 425.2,321.3 426.7,320.9 428.2,320.4 429.7,319.9 431.2,319.5 432.7,319.0 434.2,318.6 435.6,318.1 437.1,317.7 438.6,317.2 440.1,316.8 441.6,316.3 443.1,315.9 444.6,315.4 446.1,315.0 447.6,314.6 449.1,314.1 450.5,313.7 452.0,313.2 453.5,312.8 455.0,312.3 456.5,311.9 458.0,311.5 459.5,311.0 461.0,310.6 462.5,310.1 464.0,309.7 465.5,309.2 466.9,308.8 468.4,308.3 469.9,307.9 471.4,307.4 472.9,306.9 474.4,306.5 475.9,306.0 477.4,305.5 478.9,305.1 480.4,304.6 481.9,304.1 483.3,303.6 484.8,303.2 486.3,302.7 487.8,302.2 489.3,301.6 490.8,301.1 492.3,300.6 493.8,300.0 495.3,299.5 496.8,298.9 498.2,298.3 499.7,297.7 501.2,297.0 502.7,296.4 504.2,295.7 505.7,295.0 507.2,294.3 508.7,293.6 510.2,292.8 511.7,292.0 513.2,291.2 514.6,290.3 516.1,289.5 517.6,288.6 519.1,287.7 520.6,286.8 522.1,285.8 523.6,284.9 525.1,283.9 526.6,282.9 528.1,282.0 529.6,281.0 531.0,280.0 532.5,279.0 534.0,278.0 535.5,277.0 537.0,276.0 538.5,275.0 540.0,274.0 541.5,273.0 543.0,272.1 544.5,271.1 545.9,270.2 547.4,269.3 548.9,268.4 550.4,267.5 551.9,266.6 553.4,265.8 553.4,302.6 551.9,301.2 550.4,300.0 548.9,298.9 547.5,298.0 546.0,297.3 544.5,296.7 543.0,296.2 541.5,295.8 540.0,295.6 538.5,295.5 537.0,295.6 535.6,295.7 534.1,296.0 532.6,296.4 531.1,296.9 529.6,297.5 528.1,298.2 526.6,299.1 525.2,300.0 523.7,301.0 522.2,302.1 520.7,303.3 519.2,304.6 517.7,306.0 516.2,307.5 514.8,309.0 513.3,310.6 511.8,312.3 510.3,314.0 508.8,315.8 507.3,317.7 505.8,319.6 504.3,321.6 502.9,323.7 501.4,325.7 499.9,327.9 498.4,330.0 496.9,332.3 495.4,334.5 493.9,336.8 492.5,339.1 491.0,341.4 489.5,343.8 488.0,346.1 486.5,348.6 485.0,351.0 483.5,353.4 482.1,355.9 480.6,358.4 479.1,360.9 477.6,363.4 476.1,365.9 474.6,368.5 473.1,371.0 471.6,373.6 470.2,376.2 468.7,378.8 467.2,381.4 465.7,384.0 464.2,386.6 462.7,389.2 461.2,391.8 459.8,394.4 458.3,397.1 456.8,399.7 455.3,402.3 453.8,404.9 452.3,407.5 450.8,410.1 449.4,412.7 447.9,415.3 446.4,417.9 444.9,420.5 443.4,423.0 441.9,425.6 440.4,428.1 438.9,430.6 437.5,433.1 436.0,435.6 434.5,438.1 433.0,440.5 379.0,441.0" fill="#bfefff"/><polygon points="379.0,378.4 380.5,377.4 382.0,376.4 383.5,375.4 385.0,374.3 386.5,373.3 387.9,372.3 389.4,371.3 390.9,370.3 392.4,369.3 393.9,368.3 395.4,367.3 396.9,366.3 398.4,365.4 399.9,364.4 401.4,363.4 402.8,362.4 404.3,361.4 405.8,360.5 407.3,359.5 408.8,358.5 410.3,357.6 411.8,356.6 413.3,355.6 414.8,354.7 416.3,353.7 417.8,352.7 419.2,351.8 420.7,350.8 422.2,349.9 423.7,348.9 425.2,348.0 426.7,347.1 428.2,346.1 429.7,345.2 431.2,344.2 432.7,343.3 434.2,342.4 435.6,341.4 437.1,340.5 438.6,339.6 440.1,338.6 441.6,337.7 443.1,336.8 444.6,335.9 446.1,334.9 447.6,334.0 449.1,333.1 450.5,332.2 452.0,331.2 453.5,330.3 455.0,329.4 456.5,328.5 458.0,327.6 459.5,326.7 461.0,325.8 462.5,324.9 464.0,323.9 465.5,323.0 466.9,322.1 468.4,321.2 469.9,320.3 471.4,319.4 472.9,318.5 474.4,317.6 475.9,316.7 477.4,315.8 478.9,314.9 480.4,314.0 481.9,313.1 483.3,312.2 484.8,311.3 486.3,310.4 487.8,309.5 489.3,308.6 490.8,307.7 492.3,306.8 493.8,305.9 495.3,305.0 496.8,304.1 498.2,303.2 499.7,302.3 501.2,301.4 502.7,300.5 504.2,299.6 505.7,298.7 507.2,297.8 508.7,296.9 510.2,296.0 511.7,295.1 513.2,294.2 514.6,293.3 516.1,292.4 517.6,291.5 519.1,290.6 520.6,289.7 522.1,288.8 523.6,287.9 525.1,287.0 526.6,286.1 528.1,285.2 529.6,284.3 531.0,283.4 532.5,282.5 534.0,281.5 535.5,280.6 537.0,279.7 538.5,278.8 540.0,277.9 541.5,277.0 543.0,276.1 544.5,275.2 545.9,274.2 547.4,273.3 548.9,272.4 550.4,271.5 551.9,270.6 553.4,269.6 553.4,293.8 551.9,293.0 550.4,292.3 548.9,291.7 547.4,291.3 545.9,290.9 544.4,290.7 542.9,290.5 541.4,290.5 539.9,290.6 538.4,290.8 536.9,291.0 535.4,291.4 533.9,291.8 532.4,292.4 530.9,293.0 529.4,293.7 527.9,294.5 526.4,295.4 524.9,296.4 523.4,297.4 521.9,298.5 520.4,299.7 518.9,300.9 517.4,302.2 515.9,303.6 514.4,305.0 512.9,306.5 511.4,308.1 509.9,309.7 508.4,311.4 506.9,313.1 505.4,314.9 503.9,316.7 502.4,318.5 500.9,320.4 499.4,322.4 497.9,324.3 496.4,326.3 494.9,328.4 493.4,330.4 491.9,332.5 490.4,334.7 488.9,336.8 487.5,339.0 486.0,341.2 484.5,343.4 483.0,345.6 481.5,347.9 480.0,350.2 478.5,352.4 477.0,354.8 475.5,357.1 474.0,359.4 472.5,361.8 471.0,364.1 469.5,366.5 468.0,368.9 466.5,371.3 465.0,373.7 463.5,376.1 462.0,378.6 460.5,381.0 459.0,383.4 457.5,385.8 456.0,388.3 454.5,390.7 453.0,393.1 451.5,395.6 450.0,398.0 448.5,400.4 447.0,402.9 445.5,405.3 444.0,407.7 442.5,410.1 441.0,412.5 439.5,414.9 438.0,417.2 436.5,419.6 435.0,422.0 433.5,424.3 432.0,426.6 430.5,428.9 429.0,431.2 427.5,433.5 426.0,435.7 424.5,438.0 423.0,440.2 379.0,441.0" fill="#4169e1"/></g><g clip-path="url(#c21)"><polygon points="379.0,506.3 380.5,506.3 382.0,506.2 383.5,506.2 385.0,506.2 386.4,506.1 387.9,506.1 389.4,506.1 390.9,506.1 392.4,506.1 393.9,506.1 395.4,506.1 396.9,506.1 398.3,506.1 399.8,506.1 401.3,506.1 402.8,506.1 404.3,506.1 405.8,506.1 407.3,506.1 408.8,506.1 410.2,506.2 411.7,506.2 413.2,506.2 414.7,506.2 416.2,506.2 417.7,506.2 419.2,506.2 420.7,506.3 422.2,506.3 423.6,506.3 425.1,506.3 426.6,506.3 428.1,506.3 429.6,506.3 431.1,506.3 432.6,506.3 434.1,506.2 435.5,506.2 437.0,506.2 438.5,506.2 440.0,506.1 441.5,506.1 443.0,506.0 444.5,506.0 446.0,505.9 447.4,505.8 448.9,505.8 450.4,505.7 451.9,505.6 453.4,505.5 454.9,505.4 456.4,505.3 457.9,505.2 459.4,505.0 460.8,504.9 462.3,504.7 463.8,504.6 465.3,504.4 466.8,504.2 468.3,504.0 469.8,503.8 471.3,503.6 472.7,503.3 474.2,503.1 475.7,502.8 477.2,502.6 478.7,502.3 480.2,502.0 481.7,501.7 483.2,501.4 484.7,501.0 486.1,500.7 487.6,500.3 489.1,499.9 490.6,499.5 492.1,499.1 493.6,498.7 495.1,498.2 496.6,497.8 498.0,497.3 499.5,496.8 501.0,496.3 502.5,495.7 504.0,495.2 505.5,494.6 507.0,494.0 508.5,493.4 509.9,492.8 511.4,492.1 512.9,491.5 514.4,490.8 515.9,490.1 517.4,489.3 518.9,488.6 520.4,487.8 521.9,487.0 523.3,486.2 524.8,485.4 526.3,484.5 527.8,483.6 529.3,482.7 530.8,481.8 532.3,480.8 533.8,479.9 535.2,478.8 536.7,477.8 538.2,476.8 539.7,475.7 541.2,474.6 542.7,473.4 544.2,472.3 545.7,471.1 547.1,469.9 548.6,468.7 550.1,467.4 551.6,466.1 553.1,464.8 553.1,538.7 551.6,538.4 550.1,538.1 548.6,537.8 547.1,537.6 545.7,537.2 544.2,536.9 542.7,536.6 541.2,536.3 539.7,535.9 538.2,535.6 536.7,535.3 535.2,534.9 533.8,534.5 532.3,534.2 530.8,533.8 529.3,533.4 527.8,533.0 526.3,532.6 524.8,532.2 523.3,531.8 521.9,531.4 520.4,531.0 518.9,530.6 517.4,530.2 515.9,529.8 514.4,529.3 512.9,528.9 511.4,528.5 509.9,528.0 508.5,527.6 507.0,527.2 505.5,526.7 504.0,526.3 502.5,525.8 501.0,525.4 499.5,525.0 498.0,524.5 496.6,524.1 495.1,523.6 493.6,523.2 492.1,522.7 490.6,522.3 489.1,521.8 487.6,521.4 486.1,520.9 484.7,520.5 483.2,520.1 481.7,519.6 480.2,519.2 478.7,518.8 477.2,518.3 475.7,517.9 474.2,517.5 472.7,517.0 471.3,516.6 469.8,516.2 468.3,515.8 466.8,515.4 465.3,515.0 463.8,514.6 462.3,514.2 460.8,513.8 459.4,513.4 457.9,513.0 456.4,512.7 454.9,512.3 453.4,512.0 451.9,511.6 450.4,511.3 448.9,510.9 447.4,510.6 446.0,510.3 444.5,509.9 443.0,509.6 441.5,509.3 440.0,509.0 438.5,508.8 437.0,508.5 435.5,508.2 434.1,508.0 432.6,507.7 431.1,507.5 429.6,507.3 428.1,507.0 426.6,506.8 425.1,506.6 423.6,506.4 422.2,506.3 420.7,506.1 419.2,506.0 417.7,505.8 416.2,505.7 414.7,505.6 413.2,505.5 411.7,505.4 410.2,505.3 408.8,505.3 407.3,505.2 405.8,505.2 404.3,505.2 402.8,505.2 401.3,505.2 399.8,505.2 398.3,505.2 396.9,505.3 395.4,505.3 393.9,505.4 392.4,505.5 390.9,505.7 389.4,505.8 387.9,505.9 386.4,506.1 385.0,506.3 383.5,506.5 382.0,506.7 380.5,506.9 379.0,507.2" fill="#bfefff"/><polygon points="379.0,506.2 380.5,506.3 382.0,506.3 383.5,506.4 385.0,506.4 386.4,506.5 387.9,506.5 389.4,506.6 390.9,506.6 392.4,506.6 393.9,506.7 395.4,506.7 396.9,506.8 398.3,506.8 399.8,506.8 401.3,506.9 402.8,506.9 404.3,506.9 405.8,507.0 407.3,507.0 408.8,507.0 410.2,507.0 411.7,507.1 413.2,507.1 414.7,507.1 416.2,507.1 417.7,507.1 419.2,507.1 420.7,507.1 422.2,507.1 423.6,507.1 425.1,507.1 426.6,507.1 428.1,507.1 429.6,507.1 431.1,507.1 432.6,507.0 434.1,507.0 435.5,507.0 437.0,506.9 438.5,506.9 440.0,506.8 441.5,506.8 443.0,506.7 444.5,506.7 446.0,506.6 447.4,506.5 448.9,506.4 450.4,506.4 451.9,506.3 453.4,506.2 454.9,506.1 456.4,505.9 457.9,505.8 459.4,505.7 460.8,505.6 462.3,505.4 463.8,505.3 465.3,505.1 466.8,505.0 468.3,504.8 469.8,504.6 471.3,504.4 472.7,504.3 474.2,504.1 475.7,503.9 477.2,503.6 478.7,503.4 480.2,503.2 481.7,502.9 483.2,502.7 484.7,502.4 486.1,502.2 487.6,501.9 489.1,501.6 490.6,501.3 492.1,501.0 493.6,500.7 495.1,500.4 496.6,500.0 498.0,499.7 499.5,499.3 501.0,499.0 502.5,498.6 504.0,498.2 505.5,497.8 507.0,497.4 508.5,497.0 509.9,496.6 511.4,496.1 512.9,495.7 514.4,495.2 515.9,494.7 517.4,494.3 518.9,493.8 520.4,493.2 521.9,492.7 523.3,492.2 524.8,491.6 526.3,491.1 527.8,490.5 529.3,489.9 530.8,489.3 532.3,488.7 533.8,488.1 535.2,487.4 536.7,486.8 538.2,486.1 539.7,485.4 541.2,484.8 542.7,484.0 544.2,483.3 545.7,482.6 547.1,481.8 548.6,481.1 550.1,480.3 551.6,479.5 553.1,478.7 553.1,526.6 551.6,526.4 550.1,526.1 548.6,525.9 547.1,525.7 545.7,525.4 544.2,525.2 542.7,524.9 541.2,524.7 539.7,524.4 538.2,524.2 536.7,523.9 535.2,523.6 533.8,523.4 532.3,523.1 530.8,522.8 529.3,522.5 527.8,522.2 526.3,522.0 524.8,521.7 523.3,521.4 521.9,521.1 520.4,520.8 518.9,520.5 517.4,520.2 515.9,519.9 514.4,519.6 512.9,519.4 511.4,519.1 509.9,518.8 508.5,518.5 507.0,518.2 505.5,517.9 504.0,517.6 502.5,517.3 501.0,517.0 499.5,516.7 498.0,516.4 496.6,516.1 495.1,515.8 493.6,515.5 492.1,515.2 490.6,514.9 489.1,514.6 487.6,514.3 486.1,514.0 484.7,513.8 483.2,513.5 481.7,513.2 480.2,512.9 478.7,512.6 477.2,512.4 475.7,512.1 474.2,511.8 472.7,511.6 471.3,511.3 469.8,511.0 468.3,510.8 466.8,510.5 465.3,510.3 463.8,510.0 462.3,509.8 460.8,509.5 459.4,509.3 457.9,509.1 456.4,508.9 454.9,508.6 453.4,508.4 451.9,508.2 450.4,508.0 448.9,507.8 447.4,507.6 446.0,507.4 444.5,507.2 443.0,507.1 441.5,506.9 440.0,506.7 438.5,506.6 437.0,506.4 435.5,506.3 434.1,506.1 432.6,506.0 431.1,505.8 429.6,505.7 428.1,505.6 426.6,505.5 425.1,505.4 423.6,505.3 422.2,505.2 420.7,505.2 419.2,505.1 417.7,505.0 416.2,505.0 414.7,504.9 413.2,504.9 411.7,504.9 410.2,504.9 408.8,504.8 407.3,504.8 405.8,504.9 404.3,504.9 402.8,504.9 401.3,504.9 399.8,505.0 398.3,505.0 396.9,505.1 395.4,505.2 393.9,505.3 392.4,505.4 390.9,505.5 389.4,505.6 387.9,505.7 386.4,505.9 385.0,506.0 383.5,506.2 382.0,506.4 380.5,506.6 379.0,506.8" fill="#4169e1"/></g>
<path d="M83.00 266.00L83.00 260.00M83.00 105.00L83.00 111.00M85.00 266.00L85.00 260.00M85.00 105.00L85.00 111.00M87.00 266.00L87.00 260.00M87.00 105.00L87.00 111.00M89.00 266.00L89.00 255.00M89.00 105.00L89.00 116.00M102.00 266.00L102.00 260.00M102.00 105.00L102.00 111.00M110.00 266.00L110.00 260.00M110.00 105.00L110.00 111.00M116.00 266.00L116.00 260.00M116.00 105.00L116.00 111.00M120.00 266.00L120.00 260.00M120.00 105.00L120.00 111.00M123.00 266.00L123.00 260.00M123.00 105.00L123.00 111.00M126.00 266.00L126.00 260.00M126.00 105.00L126.00 111.00M129.00 266.00L129.00 260.00M129.00 105.00L129.00 111.00M131.00 266.00L131.00 260.00M131.00 105.00L131.00 111.00M133.00 266.00L133.00 255.00M133.00 105.00L133.00 116.00M146.00 266.00L146.00 260.00M146.00 105.00L146.00 111.00M154.00 266.00L154.00 260.00M154.00 105.00L154.00 111.00M159.00 266.00L159.00 260.00M159.00 105.00L159.00 111.00M163.00 266.00L163.00 260.00M163.00 105.00L163.00 111.00M167.00 266.00L167.00 260.00M167.00 105.00L167.00 111.00M170.00 266.00L170.00 260.00M170.00 105.00L170.00 111.00M172.00 266.00L172.00 260.00M172.00 105.00L172.00 111.00M174.00 266.00L174.00 260.00M174.00 105.00L174.00 111.00M176.00 266.00L176.00 255.00M176.00 105.00L176.00 116.00M189.00 266.00L189.00 260.00M189.00 105.00L189.00 111.00M197.00 266.00L197.00 260.00M197.00 105.00L197.00 111.00M203.00 266.00L203.00 260.00M203.00 105.00L203.00 111.00M207.00 266.00L207.00 260.00M207.00 105.00L207.00 111.00M210.00 266.00L210.00 260.00M210.00 105.00L210.00 111.00M213.00 266.00L213.00 260.00M213.00 105.00L213.00 111.00M216.00 266.00L216.00 260.00M216.00 105.00L216.00 111.00M218.00 266.00L218.00 260.00M218.00 105.00L218.00 111.00M220.00 266.00L220.00 255.00M220.00 105.00L220.00 116.00M233.00 266.00L233.00 260.00M233.00 105.00L233.00 111.00M241.00 266.00L241.00 260.00M241.00 105.00L241.00 111.00M246.00 266.00L246.00 260.00M246.00 105.00L246.00 111.00M250.00 266.00L250.00 260.00M250.00 105.00L250.00 111.00M254.00 266.00L254.00 260.00M254.00 105.00L254.00 111.00M257.00 266.00L257.00 260.00M257.00 105.00L257.00 111.00M259.00 266.00L259.00 260.00M259.00 105.00L259.00 111.00M261.00 266.00L261.00 260.00M261.00 105.00L261.00 111.00M263.00 266.00L263.00 255.00M263.00 105.00L263.00 116.00M80.00 266.00L91.00 266.00M272.00 266.00L261.00 266.00M80.00 253.00L86.00 253.00M272.00 253.00L266.00 253.00M80.00 239.00L86.00 239.00M272.00 239.00L266.00 239.00M80.00 226.00L86.00 226.00M272.00 226.00L266.00 226.00M80.00 212.00L91.00 212.00M272.00 212.00L261.00 212.00M80.00 199.00L86.00 199.00M272.00 199.00L266.00 199.00M80.00 186.00L86.00 186.00M272.00 186.00L266.00 186.00M80.00 172.00L86.00 172.00M272.00 172.00L266.00 172.00M80.00 159.00L91.00 159.00M272.00 159.00L261.00 159.00M80.00 146.00L86.00 146.00M272.00 146.00L266.00 146.00M80.00 132.00L86.00 132.00M272.00 132.00L266.00 132.00M80.00 119.00L86.00 119.00M272.00 119.00L266.00 119.00M80.00 105.00L91.00 105.00M272.00 105.00L261.00 105.00M83.00 426.00L83.00 420.00M83.00 266.00L83.00 272.00M85.00 426.00L85.00 420.00M85.00 266.00L85.00 272.00M87.00 426.00L87.00 420.00M87.00 266.00L87.00 272.00M89.00 426.00L89.00 415.00M89.00 266.00L89.00 277.00M102.00 426.00L102.00 420.00M102.00 266.00L102.00 272.00M110.00 426.00L110.00 420.00M110.00 266.00L110.00 272.00M116.00 426.00L116.00 420.00M116.00 266.00L116.00 272.00M120.00 426.00L120.00 420.00M120.00 266.00L120.00 272.00M123.00 426.00L123.00 420.00M123.00 266.00L123.00 272.00M126.00 426.00L126.00 420.00M126.00 266.00L126.00 272.00M129.00 426.00L129.00 420.00M129.00 266.00L129.00 272.00M131.00 426.00L131.00 420.00M131.00 266.00L131.00 272.00M133.00 426.00L133.00 415.00M133.00 266.00L133.00 277.00M146.00 426.00L146.00 420.00M146.00 266.00L146.00 272.00M154.00 426.00L154.00 420.00M154.00 266.00L154.00 272.00M159.00 426.00L159.00 420.00M159.00 266.00L159.00 272.00M163.00 426.00L163.00 420.00M163.00 266.00L163.00 272.00M167.00 426.00L167.00 420.00M167.00 266.00L167.00 272.00M170.00 426.00L170.00 420.00M170.00 266.00L170.00 272.00M172.00 426.00L172.00 420.00M172.00 266.00L172.00 272.00M174.00 426.00L174.00 420.00M174.00 266.00L174.00 272.00M176.00 426.00L176.00 415.00M176.00 266.00L176.00 277.00M189.00 426.00L189.00 420.00M189.00 266.00L189.00 272.00M197.00 426.00L197.00 420.00M197.00 266.00L197.00 272.00M203.00 426.00L203.00 420.00M203.00 266.00L203.00 272.00M207.00 426.00L207.00 420.00M207.00 266.00L207.00 272.00M210.00 426.00L210.00 420.00M210.00 266.00L210.00 272.00M213.00 426.00L213.00 420.00M213.00 266.00L213.00 272.00M216.00 426.00L216.00 420.00M216.00 266.00L216.00 272.00M218.00 426.00L218.00 420.00M218.00 266.00L218.00 272.00M220.00 426.00L220.00 415.00M220.00 266.00L220.00 277.00M233.00 426.00L233.00 420.00M233.00 266.00L233.00 272.00M241.00 426.00L241.00 420.00M241.00 266.00L241.00 272.00M246.00 426.00L246.00 420.00M246.00 266.00L246.00 272.00M250.00 426.00L250.00 420.00M250.00 266.00L250.00 272.00M254.00 426.00L254.00 420.00M254.00 266.00L254.00 272.00M257.00 426.00L257.00 420.00M257.00 266.00L257.00 272.00M259.00 426.00L259.00 420.00M259.00 266.00L259.00 272.00M261.00 426.00L261.00 420.00M261.00 266.00L261.00 272.00M263.00 426.00L263.00 415.00M263.00 266.00L263.00 277.00M80.00 427.00L91.00 427.00M272.00 427.00L261.00 427.00M80.00 413.00L86.00 413.00M272.00 413.00L266.00 413.00M80.00 400.00L86.00 400.00M272.00 400.00L266.00 400.00M80.00 387.00L86.00 387.00M272.00 387.00L266.00 387.00M80.00 373.00L91.00 373.00M272.00 373.00L261.00 373.00M80.00 360.00L86.00 360.00M272.00 360.00L266.00 360.00M80.00 346.00L86.00 346.00M272.00 346.00L266.00 346.00M80.00 333.00L86.00 333.00M272.00 333.00L266.00 333.00M80.00 320.00L91.00 320.00M272.00 320.00L261.00 320.00M80.00 306.00L86.00 306.00M272.00 306.00L266.00 306.00M80.00 293.00L86.00 293.00M272.00 293.00L266.00 293.00M80.00 279.00L86.00 279.00M272.00 279.00L266.00 279.00M80.00 266.00L91.00 266.00M272.00 266.00L261.00 266.00M83.00 587.00L83.00 581.00M83.00 426.00L83.00 432.00M85.00 587.00L85.00 581.00M85.00 426.00L85.00 432.00M87.00 587.00L87.00 581.00M87.00 426.00L87.00 432.00M89.00 587.00L89.00 576.00M89.00 426.00L89.00 437.00M102.00 587.00L102.00 581.00M102.00 426.00L102.00 432.00M110.00 587.00L110.00 581.00M110.00 426.00L110.00 432.00M116.00 587.00L116.00 581.00M116.00 426.00L116.00 432.00M120.00 587.00L120.00 581.00M120.00 426.00L120.00 432.00M123.00 587.00L123.00 581.00M123.00 426.00L123.00 432.00M126.00 587.00L126.00 581.00M126.00 426.00L126.00 432.00M129.00 587.00L129.00 581.00M129.00 426.00L129.00 432.00M131.00 587.00L131.00 581.00M131.00 426.00L131.00 432.00M133.00 587.00L133.00 576.00M133.00 426.00L133.00 437.00M146.00 587.00L146.00 581.00M146.00 426.00L146.00 432.00M154.00 587.00L154.00 581.00M154.00 426.00L154.00 432.00M159.00 587.00L159.00 581.00M159.00 426.00L159.00 432.00M163.00 587.00L163.00 581.00M163.00 426.00L163.00 432.00M167.00 587.00L167.00 581.00M167.00 426.00L167.00 432.00M170.00 587.00L170.00 581.00M170.00 426.00L170.00 432.00M172.00 587.00L172.00 581.00M172.00 426.00L172.00 432.00M174.00 587.00L174.00 581.00M174.00 426.00L174.00 432.00M176.00 587.00L176.00 576.00M176.00 426.00L176.00 437.00M189.00 587.00L189.00 581.00M189.00 426.00L189.00 432.00M197.00 587.00L197.00 581.00M197.00 426.00L197.00 432.00M203.00 587.00L203.00 581.00M203.00 426.00L203.00 432.00M207.00 587.00L207.00 581.00M207.00 426.00L207.00 432.00M210.00 587.00L210.00 581.00M210.00 426.00L210.00 432.00M213.00 587.00L213.00 581.00M213.00 426.00L213.00 432.00M216.00 587.00L216.00 581.00M216.00 426.00L216.00 432.00M218.00 587.00L218.00 581.00M218.00 426.00L218.00 432.00M220.00 587.00L220.00 576.00M220.00 426.00L220.00 437.00M233.00 587.00L233.00 581.00M233.00 426.00L233.00 432.00M241.00 587.00L241.00 581.00M241.00 426.00L241.00 432.00M246.00 587.00L246.00 581.00M246.00 426.00L246.00 432.00M250.00 587.00L250.00 581.00M250.00 426.00L250.00 432.00M254.00 587.00L254.00 581.00M254.00 426.00L254.00 432.00M257.00 587.00L257.00 581.00M257.00 426.00L257.00 432.00M259.00 587.00L259.00 581.00M259.00 426.00L259.00 432.00M261.00 587.00L261.00 581.00M261.00 426.00L261.00 432.00M263.00 587.00L263.00 576.00M263.00 426.00L263.00 437.00M80.00 587.00L86.00 587.00M272.00 587.00L266.00 587.00M80.00 576.00L86.00 576.00M272.00 576.00L266.00 576.00M80.00 564.00L86.00 564.00M272.00 564.00L266.00 564.00M80.00 553.00L86.00 553.00M272.00 553.00L266.00 553.00M80.00 541.00L91.00 541.00M272.00 541.00L261.00 541.00M80.00 530.00L86.00 530.00M272.00 530.00L266.00 530.00M80.00 518.00L86.00 518.00M272.00 518.00L266.00 518.00M80.00 507.00L86.00 507.00M272.00 507.00L266.00 507.00M80.00 496.00L86.00 496.00M272.00 496.00L266.00 496.00M80.00 484.00L91.00 484.00M272.00 484.00L261.00 484.00M80.00 473.00L86.00 473.00M272.00 473.00L266.00 473.00M80.00 461.00L86.00 461.00M272.00 461.00L266.00 461.00M80.00 450.00L86.00 450.00M272.00 450.00L266.00 450.00M80.00 438.00L86.00 438.00M272.00 438.00L266.00 438.00M80.00 427.00L91.00 427.00M272.00 427.00L261.00 427.00M373.00 266.00L373.00 260.00M373.00 105.00L373.00 111.00M375.00 266.00L375.00 260.00M375.00 105.00L375.00 111.00M377.00 266.00L377.00 260.00M377.00 105.00L377.00 111.00M379.00 266.00L379.00 255.00M379.00 105.00L379.00 116.00M392.00 266.00L392.00 260.00M392.00 105.00L392.00 111.00M400.00 266.00L400.00 260.00M400.00 105.00L400.00 111.00M406.00 266.00L406.00 260.00M406.00 105.00L406.00 111.00M410.00 266.00L410.00 260.00M410.00 105.00L410.00 111.00M413.00 266.00L413.00 260.00M413.00 105.00L413.00 111.00M416.00 266.00L416.00 260.00M416.00 105.00L416.00 111.00M419.00 266.00L419.00 260.00M419.00 105.00L419.00 111.00M421.00 266.00L421.00 260.00M421.00 105.00L421.00 111.00M423.00 266.00L423.00 255.00M423.00 105.00L423.00 116.00M436.00 266.00L436.00 260.00M436.00 105.00L436.00 111.00M444.00 266.00L444.00 260.00M444.00 105.00L444.00 111.00M449.00 266.00L449.00 260.00M449.00 105.00L449.00 111.00M453.00 266.00L453.00 260.00M453.00 105.00L453.00 111.00M457.00 266.00L457.00 260.00M457.00 105.00L457.00 111.00M460.00 266.00L460.00 260.00M460.00 105.00L460.00 111.00M462.00 266.00L462.00 260.00M462.00 105.00L462.00 111.00M464.00 266.00L464.00 260.00M464.00 105.00L464.00 111.00M466.00 266.00L466.00 255.00M466.00 105.00L466.00 116.00M479.00 266.00L479.00 260.00M479.00 105.00L479.00 111.00M487.00 266.00L487.00 260.00M487.00 105.00L487.00 111.00M493.00 266.00L493.00 260.00M493.00 105.00L493.00 111.00M497.00 266.00L497.00 260.00M497.00 105.00L497.00 111.00M500.00 266.00L500.00 260.00M500.00 105.00L500.00 111.00M503.00 266.00L503.00 260.00M503.00 105.00L503.00 111.00M506.00 266.00L506.00 260.00M506.00 105.00L506.00 111.00M508.00 266.00L508.00 260.00M508.00 105.00L508.00 111.00M510.00 266.00L510.00 255.00M510.00 105.00L510.00 116.00M523.00 266.00L523.00 260.00M523.00 105.00L523.00 111.00M531.00 266.00L531.00 260.00M531.00 105.00L531.00 111.00M536.00 266.00L536.00 260.00M536.00 105.00L536.00 111.00M540.00 266.00L540.00 260.00M540.00 105.00L540.00 111.00M544.00 266.00L544.00 260.00M544.00 105.00L544.00 111.00M547.00 266.00L547.00 260.00M547.00 105.00L547.00 111.00M549.00 266.00L549.00 260.00M549.00 105.00L549.00 111.00M551.00 266.00L551.00 260.00M551.00 105.00L551.00 111.00M553.00 266.00L553.00 255.00M553.00 105.00L553.00 116.00M370.00 266.00L381.00 266.00M562.00 266.00L551.00 266.00M370.00 258.00L376.00 258.00M562.00 258.00L556.00 258.00M370.00 250.00L376.00 250.00M562.00 250.00L556.00 250.00M370.00 242.00L376.00 242.00M562.00 242.00L556.00 242.00M370.00 234.00L376.00 234.00M562.00 234.00L556.00 234.00M370.00 226.00L381.00 226.00M562.00 226.00L551.00 226.00M370.00 218.00L376.00 218.00M562.00 218.00L556.00 218.00M370.00 210.00L376.00 210.00M562.00 210.00L556.00 210.00M370.00 202.00L376.00 202.00M562.00 202.00L556.00 202.00M370.00 194.00L376.00 194.00M562.00 194.00L556.00 194.00M370.00 186.00L381.00 186.00M562.00 186.00L551.00 186.00M370.00 178.00L376.00 178.00M562.00 178.00L556.00 178.00M370.00 170.00L376.00 170.00M562.00 170.00L556.00 170.00M370.00 162.00L376.00 162.00M562.00 162.00L556.00 162.00M370.00 154.00L376.00 154.00M562.00 154.00L556.00 154.00M370.00 146.00L381.00 146.00M562.00 146.00L551.00 146.00M370.00 137.00L376.00 137.00M562.00 137.00L556.00 137.00M370.00 129.00L376.00 129.00M562.00 129.00L556.00 129.00M370.00 121.00L376.00 121.00M562.00 121.00L556.00 121.00M370.00 113.00L376.00 113.00M562.00 113.00L556.00 113.00M370.00 105.00L381.00 105.00M562.00 105.00L551.00 105.00M373.00 426.00L373.00 420.00M373.00 266.00L373.00 272.00M375.00 426.00L375.00 420.00M375.00 266.00L375.00 272.00M377.00 426.00L377.00 420.00M377.00 266.00L377.00 272.00M379.00 426.00L379.00 415.00M379.00 266.00L379.00 277.00M392.00 426.00L392.00 420.00M392.00 266.00L392.00 272.00M400.00 426.00L400.00 420.00M400.00 266.00L400.00 272.00M406.00 426.00L406.00 420.00M406.00 266.00L406.00 272.00M410.00 426.00L410.00 420.00M410.00 266.00L410.00 272.00M413.00 426.00L413.00 420.00M413.00 266.00L413.00 272.00M416.00 426.00L416.00 420.00M416.00 266.00L416.00 272.00M419.00 426.00L419.00 420.00M419.00 266.00L419.00 272.00M421.00 426.00L421.00 420.00M421.00 266.00L421.00 272.00M423.00 426.00L423.00 415.00M423.00 266.00L423.00 277.00M436.00 426.00L436.00 420.00M436.00 266.00L436.00 272.00M444.00 426.00L444.00 420.00M444.00 266.00L444.00 272.00M449.00 426.00L449.00 420.00M449.00 266.00L449.00 272.00M453.00 426.00L453.00 420.00M453.00 266.00L453.00 272.00M457.00 426.00L457.00 420.00M457.00 266.00L457.00 272.00M460.00 426.00L460.00 420.00M460.00 266.00L460.00 272.00M462.00 426.00L462.00 420.00M462.00 266.00L462.00 272.00M464.00 426.00L464.00 420.00M464.00 266.00L464.00 272.00M466.00 426.00L466.00 415.00M466.00 266.00L466.00 277.00M479.00 426.00L479.00 420.00M479.00 266.00L479.00 272.00M487.00 426.00L487.00 420.00M487.00 266.00L487.00 272.00M493.00 426.00L493.00 420.00M493.00 266.00L493.00 272.00M497.00 426.00L497.00 420.00M497.00 266.00L497.00 272.00M500.00 426.00L500.00 420.00M500.00 266.00L500.00 272.00M503.00 426.00L503.00 420.00M503.00 266.00L503.00 272.00M506.00 426.00L506.00 420.00M506.00 266.00L506.00 272.00M508.00 426.00L508.00 420.00M508.00 266.00L508.00 272.00M510.00 426.00L510.00 415.00M510.00 266.00L510.00 277.00M523.00 426.00L523.00 420.00M523.00 266.00L523.00 272.00M531.00 426.00L531.00 420.00M531.00 266.00L531.00 272.00M536.00 426.00L536.00 420.00M536.00 266.00L536.00 272.00M540.00 426.00L540.00 420.00M540.00 266.00L540.00 272.00M544.00 426.00L544.00 420.00M544.00 266.00L544.00 272.00M547.00 426.00L547.00 420.00M547.00 266.00L547.00 272.00M549.00 426.00L549.00 420.00M549.00 266.00L549.00 272.00M551.00 426.00L551.00 420.00M551.00 266.00L551.00 272.00M553.00 426.00L553.00 415.00M553.00 266.00L553.00 277.00M370.00 427.00L381.00 427.00M562.00 427.00L551.00 427.00M370.00 402.00L376.00 402.00M562.00 402.00L556.00 402.00M370.00 388.00L376.00 388.00M562.00 388.00L556.00 388.00M370.00 378.00L376.00 378.00M562.00 378.00L556.00 378.00M370.00 371.00L376.00 371.00M562.00 371.00L556.00 371.00M370.00 364.00L376.00 364.00M562.00 364.00L556.00 364.00M370.00 359.00L376.00 359.00M562.00 359.00L556.00 359.00M370.00 354.00L376.00 354.00M562.00 354.00L556.00 354.00M370.00 350.00L376.00 350.00M562.00 350.00L556.00 350.00M370.00 346.00L381.00 346.00M562.00 346.00L551.00 346.00M370.00 322.00L376.00 322.00M562.00 322.00L556.00 322.00M370.00 308.00L376.00 308.00M562.00 308.00L556.00 308.00M370.00 298.00L376.00 298.00M562.00 298.00L556.00 298.00M370.00 290.00L376.00 290.00M562.00 290.00L556.00 290.00M370.00 284.00L376.00 284.00M562.00 284.00L556.00 284.00M370.00 278.00L376.00 278.00M562.00 278.00L556.00 278.00M370.00 274.00L376.00 274.00M562.00 274.00L556.00 274.00M370.00 270.00L376.00 270.00M562.00 270.00L556.00 270.00M370.00 266.00L381.00 266.00M562.00 266.00L551.00 266.00M373.00 587.00L373.00 581.00M373.00 426.00L373.00 432.00M375.00 587.00L375.00 581.00M375.00 426.00L375.00 432.00M377.00 587.00L377.00 581.00M377.00 426.00L377.00 432.00M379.00 587.00L379.00 576.00M379.00 426.00L379.00 437.00M392.00 587.00L392.00 581.00M392.00 426.00L392.00 432.00M400.00 587.00L400.00 581.00M400.00 426.00L400.00 432.00M406.00 587.00L406.00 581.00M406.00 426.00L406.00 432.00M410.00 587.00L410.00 581.00M410.00 426.00L410.00 432.00M413.00 587.00L413.00 581.00M413.00 426.00L413.00 432.00M416.00 587.00L416.00 581.00M416.00 426.00L416.00 432.00M419.00 587.00L419.00 581.00M419.00 426.00L419.00 432.00M421.00 587.00L421.00 581.00M421.00 426.00L421.00 432.00M423.00 587.00L423.00 576.00M423.00 426.00L423.00 437.00M436.00 587.00L436.00 581.00M436.00 426.00L436.00 432.00M444.00 587.00L444.00 581.00M444.00 426.00L444.00 432.00M449.00 587.00L449.00 581.00M449.00 426.00L449.00 432.00M453.00 587.00L453.00 581.00M453.00 426.00L453.00 432.00M457.00 587.00L457.00 581.00M457.00 426.00L457.00 432.00M460.00 587.00L460.00 581.00M460.00 426.00L460.00 432.00M462.00 587.00L462.00 581.00M462.00 426.00L462.00 432.00M464.00 587.00L464.00 581.00M464.00 426.00L464.00 432.00M466.00 587.00L466.00 576.00M466.00 426.00L466.00 437.00M479.00 587.00L479.00 581.00M479.00 426.00L479.00 432.00M487.00 587.00L487.00 581.00M487.00 426.00L487.00 432.00M493.00 587.00L493.00 581.00M493.00 426.00L493.00 432.00M497.00 587.00L497.00 581.00M497.00 426.00L497.00 432.00M500.00 587.00L500.00 581.00M500.00 426.00L500.00 432.00M503.00 587.00L503.00 581.00M503.00 426.00L503.00 432.00M506.00 587.00L506.00 581.00M506.00 426.00L506.00 432.00M508.00 587.00L508.00 581.00M508.00 426.00L508.00 432.00M510.00 587.00L510.00 576.00M510.00 426.00L510.00 437.00M523.00 587.00L523.00 581.00M523.00 426.00L523.00 432.00M531.00 587.00L531.00 581.00M531.00 426.00L531.00 432.00M536.00 587.00L536.00 581.00M536.00 426.00L536.00 432.00M540.00 587.00L540.00 581.00M540.00 426.00L540.00 432.00M544.00 587.00L544.00 581.00M544.00 426.00L544.00 432.00M547.00 587.00L547.00 581.00M547.00 426.00L547.00 432.00M549.00 587.00L549.00 581.00M549.00 426.00L549.00 432.00M551.00 587.00L551.00 581.00M551.00 426.00L551.00 432.00M553.00 587.00L553.00 576.00M553.00 426.00L553.00 437.00M370.00 587.00L381.00 587.00M562.00 587.00L551.00 587.00M370.00 563.00L376.00 563.00M562.00 563.00L556.00 563.00M370.00 549.00L376.00 549.00M562.00 549.00L556.00 549.00M370.00 539.00L376.00 539.00M562.00 539.00L556.00 539.00M370.00 531.00L376.00 531.00M562.00 531.00L556.00 531.00M370.00 525.00L376.00 525.00M562.00 525.00L556.00 525.00M370.00 519.00L376.00 519.00M562.00 519.00L556.00 519.00M370.00 515.00L376.00 515.00M562.00 515.00L556.00 515.00M370.00 511.00L376.00 511.00M562.00 511.00L556.00 511.00M370.00 507.00L381.00 507.00M562.00 507.00L551.00 507.00M370.00 483.00L376.00 483.00M562.00 483.00L556.00 483.00M370.00 469.00L376.00 469.00M562.00 469.00L556.00 469.00M370.00 459.00L376.00 459.00M562.00 459.00L556.00 459.00M370.00 451.00L376.00 451.00M562.00 451.00L556.00 451.00M370.00 445.00L376.00 445.00M562.00 445.00L556.00 445.00M370.00 439.00L376.00 439.00M562.00 439.00L556.00 439.00M370.00 434.00L376.00 434.00M562.00 434.00L556.00 434.00M370.00 430.00L376.00 430.00M562.00 430.00L556.00 430.00M370.00 427.00L381.00 427.00M562.00 427.00L551.00 427.00" stroke="#000" stroke-width="2" fill="none" opacity="0.72"/>
<g fill="none" stroke="#000" stroke-width="2"><rect x="80" y="105" width="192" height="482"/><line x1="80" y1="266" x2="272" y2="266"/><line x1="80" y1="426" x2="272" y2="426"/><rect x="370" y="105" width="192" height="482"/><line x1="370" y1="266" x2="562" y2="266"/><line x1="370" y1="426" x2="562" y2="426"/></g>
<g clip-path="url(#kc00)"><polyline points="89.0,104.3 90.5,105.2 92.0,106.0 93.5,106.9 95.0,107.7 96.5,108.5 98.0,109.3 99.5,110.1 101.0,110.9 102.4,111.7 103.9,112.4 105.4,113.2 106.9,113.9 108.4,114.7 109.9,115.4 111.4,116.1 112.9,116.8 114.4,117.5 115.9,118.2 117.4,118.8 118.9,119.5 120.4,120.2 121.9,120.8 123.4,121.5 124.9,122.1 126.4,122.8 127.8,123.4 129.3,124.0 130.8,124.6 132.3,125.3 133.8,125.9 135.3,126.5 136.8,127.1 138.3,127.7 139.8,128.3 141.3,128.9 142.8,129.5 144.3,130.1 145.8,130.7 147.3,131.4 148.8,132.0 150.3,132.6 151.7,133.2 153.2,133.8 154.7,134.4 156.2,135.0 157.7,135.6 159.2,136.3 160.7,136.9 162.2,137.5 163.7,138.2 165.2,138.8 166.7,139.5 168.2,140.1 169.7,140.8 171.2,141.5 172.7,142.1 174.2,142.8 175.7,143.5 177.1,144.2 178.6,144.9 180.1,145.6 181.6,146.4 183.1,147.1 184.6,147.9 186.1,148.6 187.6,149.4 189.1,150.2 190.6,151.0 192.1,151.8 193.6,152.6 195.1,153.4 196.6,154.3 198.1,155.1 199.6,156.0 201.1,156.9 202.5,157.8 204.0,158.7 205.5,159.7 207.0,160.6 208.5,161.6 210.0,162.6 211.5,163.6 213.0,164.6 214.5,165.7 216.0,166.8 217.5,167.8 219.0,168.9 220.5,170.1 222.0,171.2 223.5,172.4 225.0,173.6 226.4,174.8 227.9,176.0 229.4,177.3 230.9,178.5 232.4,179.8 233.9,181.2 235.4,182.5 236.9,183.9 238.4,185.3 239.9,186.7 241.4,188.2 242.9,189.7 244.4,191.2 245.9,192.7 247.4,194.3 248.9,195.8 250.4,197.5 251.8,199.1 253.3,200.8 254.8,202.5 256.3,204.2 257.8,206.0 259.3,207.8 260.8,209.6 262.3,211.5 263.8,213.4" fill="none" stroke="#000" stroke-width="1.8" stroke-linejoin="round"/><polyline points="89.0,142.9 90.5,143.1 92.0,143.2 93.5,143.3 95.0,143.4 96.5,143.5 98.0,143.6 99.5,143.7 101.0,143.7 102.4,143.8 103.9,143.8 105.4,143.8 106.9,143.8 108.4,143.8 109.9,143.8 111.4,143.8 112.9,143.8 114.4,143.8 115.9,143.8 117.4,143.7 118.9,143.7 120.4,143.6 121.9,143.6 123.4,143.6 124.9,143.5 126.4,143.5 127.8,143.4 129.3,143.4 130.8,143.3 132.3,143.3 133.8,143.2 135.3,143.2 136.8,143.2 138.3,143.1 139.8,143.1 141.3,143.1 142.8,143.1 144.3,143.1 145.8,143.1 147.3,143.1 148.8,143.1 150.3,143.1 151.7,143.2 153.2,143.2 154.7,143.3 156.2,143.3 157.7,143.4 159.2,143.5 160.7,143.7 162.2,143.8 163.7,143.9 165.2,144.1 166.7,144.3 168.2,144.5 169.7,144.7 171.2,145.0 172.7,145.2 174.2,145.5 175.7,145.8 177.1,146.1 178.6,146.5 180.1,146.8 181.6,147.2 183.1,147.7 184.6,148.1 186.1,148.6 187.6,149.1 189.1,149.6 190.6,150.2 192.1,150.7 193.6,151.4 195.1,152.0 196.6,152.7 198.1,153.4 199.6,154.1 201.1,154.9 202.5,155.7 204.0,156.5 205.5,157.4 207.0,158.3 208.5,159.3 210.0,160.2 211.5,161.3 213.0,162.3 214.5,163.4 216.0,164.5 217.5,165.7 219.0,166.9 220.5,168.2 222.0,169.5 223.5,170.8 225.0,172.2 226.4,173.7 227.9,175.1 229.4,176.7 230.9,178.2 232.4,179.9 233.9,181.5 235.4,183.2 236.9,185.0 238.4,186.8 239.9,188.7 241.4,190.6 242.9,192.6 244.4,194.6 245.9,196.6 247.4,198.8 248.9,200.9 250.4,203.2 251.8,205.5 253.3,207.8 254.8,210.2 256.3,212.7 257.8,215.2 259.3,217.8 260.8,220.4 262.3,223.1 263.8,225.9" fill="none" stroke="#f00" stroke-width="1.8" stroke-dasharray="7.5 5.5"/></g><g clip-path="url(#kc10)"><polyline points="122.0,440.9 123.5,438.9 125.0,436.9 126.5,434.9 128.0,432.9 129.4,430.9 130.9,428.9 132.4,426.8 133.9,424.8 135.4,422.7 136.9,420.6 138.4,418.5 139.9,416.4 141.4,414.3 142.9,412.2 144.3,410.1 145.8,408.0 147.3,405.9 148.8,403.7 150.3,401.6 151.8,399.5 153.3,397.3 154.8,395.2 156.3,393.0 157.7,390.9 159.2,388.7 160.7,386.6 162.2,384.4 163.7,382.3 165.2,380.1 166.7,378.0 168.2,375.9 169.7,373.7 171.2,371.6 172.6,369.5 174.1,367.3 175.6,365.2 177.1,363.1 178.6,361.0 180.1,358.9 181.6,356.8 183.1,354.7 184.6,352.6 186.0,350.6 187.5,348.5 189.0,346.4 190.5,344.4 192.0,342.4 193.5,340.4 195.0,338.4 196.5,336.4 198.0,334.4 199.5,332.4 200.9,330.5 202.4,328.5 203.9,326.6 205.4,324.7 206.9,322.8 208.4,320.9 209.9,319.1 211.4,317.3 212.9,315.4 214.3,313.6 215.8,311.9 217.3,310.1 218.8,308.4 220.3,306.7 221.8,305.0 223.3,303.3 224.8,301.6 226.3,300.0 227.8,298.4 229.2,296.8 230.7,295.3 232.2,293.8 233.7,292.3 235.2,290.8 236.7,289.4 238.2,287.9 239.7,286.6 241.2,285.2 242.6,283.9 244.1,282.6 245.6,281.3 247.1,280.1 248.6,278.8 250.1,277.7 251.6,276.5 253.1,275.4 254.6,274.3 256.1,273.3 257.5,272.3 259.0,271.3 260.5,270.4 262.0,269.5 263.5,268.6" fill="none" stroke="#000" stroke-width="1.8" stroke-linejoin="round"/><polyline points="136.5,441.1 138.0,438.3 139.5,435.5 141.0,432.7 142.5,429.9 144.0,427.1 145.5,424.4 147.0,421.6 148.5,418.8 149.9,416.0 151.4,413.3 152.9,410.5 154.4,407.7 155.9,405.0 157.4,402.3 158.9,399.5 160.4,396.8 161.9,394.1 163.4,391.4 164.9,388.7 166.4,386.0 167.9,383.4 169.4,380.7 170.9,378.1 172.4,375.5 173.9,372.9 175.3,370.3 176.8,367.7 178.3,365.2 179.8,362.7 181.3,360.1 182.8,357.7 184.3,355.2 185.8,352.7 187.3,350.3 188.8,347.9 190.3,345.5 191.8,343.2 193.3,340.9 194.8,338.6 196.3,336.3 197.8,334.0 199.3,331.8 200.7,329.6 202.2,327.5 203.7,325.3 205.2,323.2 206.7,321.2 208.2,319.1 209.7,317.1 211.2,315.2 212.7,313.2 214.2,311.3 215.7,309.5 217.2,307.7 218.7,305.9 220.2,304.1 221.7,302.4 223.2,300.7 224.7,299.1 226.1,297.5 227.6,296.0 229.1,294.5 230.6,293.0 232.1,291.6 233.6,290.2 235.1,288.9 236.6,287.6 238.1,286.4 239.6,285.2 241.1,284.0 242.6,283.0 244.1,281.9 245.6,280.9 247.1,280.0 248.6,279.1 250.1,278.3 251.5,277.5 253.0,276.8 254.5,276.1 256.0,275.5 257.5,274.9 259.0,274.4 260.5,274.0 262.0,273.6 263.5,273.2" fill="none" stroke="#f00" stroke-width="1.8" stroke-dasharray="7.5 5.5"/></g><g clip-path="url(#kc20)"><polyline points="89.0,477.0 90.5,477.0 92.0,477.1 93.5,477.1 95.0,477.1 96.5,477.2 97.9,477.2 99.4,477.2 100.9,477.3 102.4,477.3 103.9,477.3 105.4,477.4 106.9,477.4 108.4,477.4 109.9,477.5 111.4,477.5 112.9,477.6 114.4,477.6 115.8,477.6 117.3,477.7 118.8,477.7 120.3,477.7 121.8,477.8 123.3,477.8 124.8,477.9 126.3,477.9 127.8,477.9 129.3,478.0 130.8,478.0 132.3,478.1 133.7,478.1 135.2,478.1 136.7,478.2 138.2,478.2 139.7,478.3 141.2,478.3 142.7,478.3 144.2,478.4 145.7,478.4 147.2,478.5 148.7,478.5 150.1,478.6 151.6,478.6 153.1,478.7 154.6,478.7 156.1,478.7 157.6,478.8 159.1,478.8 160.6,478.9 162.1,478.9 163.6,479.0 165.1,479.0 166.6,479.1 168.0,479.1 169.5,479.2 171.0,479.2 172.5,479.3 174.0,479.3 175.5,479.4 177.0,479.4 178.5,479.5 180.0,479.5 181.5,479.6 183.0,479.6 184.5,479.7 185.9,479.8 187.4,479.8 188.9,479.9 190.4,480.0 191.9,480.1 193.4,480.3 194.9,480.5 196.4,480.6 197.9,480.9 199.4,481.1 200.9,481.3 202.4,481.6 203.8,481.9 205.3,482.2 206.8,482.5 208.3,482.9 209.8,483.3 211.3,483.7 212.8,484.2 214.3,484.7 215.8,485.4 217.3,486.1 218.8,486.8 220.2,487.6 221.7,488.5 223.2,489.5 224.7,490.6 226.2,491.8 227.7,493.0 229.2,494.3 230.7,495.6 232.2,497.1 233.7,498.6 235.2,500.2 236.7,501.9 238.1,503.6 239.6,505.4 241.1,507.2 242.6,509.1 244.1,511.2 245.6,513.2 247.1,515.3 248.6,517.3 250.1,519.3 251.6,521.2 253.1,523.1 254.6,525.0 256.0,526.8 257.5,528.7 259.0,530.5 260.5,532.3 262.0,534.0 263.5,535.8" fill="none" stroke="#000" stroke-width="1.8" stroke-linejoin="round"/><polyline points="89.0,477.0 90.5,477.0 92.0,477.1 93.5,477.1 95.0,477.1 96.5,477.2 97.9,477.2 99.4,477.2 100.9,477.3 102.4,477.3 103.9,477.3 105.4,477.4 106.9,477.4 108.4,477.4 109.9,477.5 111.4,477.5 112.9,477.6 114.4,477.6 115.8,477.6 117.3,477.7 118.8,477.7 120.3,477.7 121.8,477.8 123.3,477.8 124.8,477.9 126.3,477.9 127.8,477.9 129.3,478.0 130.8,478.0 132.3,478.1 133.7,478.1 135.2,478.1 136.7,478.2 138.2,478.2 139.7,478.3 141.2,478.3 142.7,478.3 144.2,478.4 145.7,478.4 147.2,478.5 148.7,478.5 150.1,478.6 151.6,478.6 153.1,478.7 154.6,478.7 156.1,478.7 157.6,478.8 159.1,478.8 160.6,478.9 162.1,478.9 163.6,479.0 165.1,479.0 166.6,479.1 168.0,479.1 169.5,479.2 171.0,479.2 172.5,479.3 174.0,479.3 175.5,479.4 177.0,479.4 178.5,479.5 180.0,479.5 181.5,479.6 183.0,479.6 184.5,479.7 185.9,479.8 187.4,479.8 188.9,479.9 190.4,480.0 191.9,480.1 193.4,480.3 194.9,480.5 196.4,480.6 197.9,480.9 199.4,481.1 200.9,481.3 202.4,481.6 203.8,481.9 205.3,482.2 206.8,482.5 208.3,482.9 209.8,483.3 211.3,483.7 212.8,484.2 214.3,484.7 215.8,485.4 217.3,486.1 218.8,486.8 220.2,487.6 221.7,488.5 223.2,489.5 224.7,490.6 226.2,491.8 227.7,493.0 229.2,494.3 230.7,495.6 232.2,497.1 233.7,498.6 235.2,500.2 236.7,501.9 238.1,503.6 239.6,505.4 241.1,507.2 242.6,509.1 244.1,511.2 245.6,513.2 247.1,515.3 248.6,517.3 250.1,519.3 251.6,521.2 253.1,523.1 254.6,525.0 256.0,526.8 257.5,528.7 259.0,530.5 260.5,532.3 262.0,534.0 263.5,535.8" fill="none" stroke="#f00" stroke-width="1.8" stroke-dasharray="7.5 5.5"/></g><g clip-path="url(#kc01)"><polyline points="379.0,133.5 380.5,133.6 382.0,133.7 383.5,133.7 385.0,133.8 386.5,133.8 387.9,133.8 389.4,133.9 390.9,133.9 392.4,133.9 393.9,133.9 395.4,133.9 396.9,133.9 398.4,133.9 399.9,133.9 401.4,133.9 402.8,133.9 404.3,133.8 405.8,133.8 407.3,133.8 408.8,133.8 410.3,133.8 411.8,133.7 413.3,133.7 414.8,133.7 416.3,133.7 417.8,133.7 419.2,133.6 420.7,133.6 422.2,133.6 423.7,133.6 425.2,133.6 426.7,133.6 428.2,133.6 429.7,133.6 431.2,133.6 432.7,133.6 434.2,133.7 435.6,133.7 437.1,133.7 438.6,133.8 440.1,133.8 441.6,133.9 443.1,134.0 444.6,134.1 446.1,134.1 447.6,134.2 449.1,134.4 450.5,134.5 452.0,134.6 453.5,134.8 455.0,134.9 456.5,135.1 458.0,135.3 459.5,135.5 461.0,135.7 462.5,135.9 464.0,136.1 465.5,136.4 466.9,136.7 468.4,136.9 469.9,137.2 471.4,137.6 472.9,137.9 474.4,138.3 475.9,138.6 477.4,139.0 478.9,139.4 480.4,139.9 481.9,140.3 483.3,140.8 484.8,141.3 486.3,141.8 487.8,142.3 489.3,142.9 490.8,143.4 492.3,144.0 493.8,144.7 495.3,145.3 496.8,146.0 498.2,146.7 499.7,147.4 501.2,148.1 502.7,148.9 504.2,149.7 505.7,150.5 507.2,151.4 508.7,152.2 510.2,153.1 511.7,154.1 513.2,155.0 514.6,156.0 516.1,157.1 517.6,158.1 519.1,159.2 520.6,160.3 522.1,161.4 523.6,162.6 525.1,163.8 526.6,165.1 528.1,166.3 529.6,167.7 531.0,169.0 532.5,170.4 534.0,171.8 535.5,173.2 537.0,174.7 538.5,176.2 540.0,177.8 541.5,179.4 543.0,181.0 544.5,182.6 545.9,184.4 547.4,186.1 548.9,187.9 550.4,189.7 551.9,191.6 553.4,193.4" fill="none" stroke="#000" stroke-width="1.8" stroke-linejoin="round"/><polyline points="379.0,105.8 380.5,106.1 382.0,106.4 383.5,106.6 385.0,106.8 386.5,107.0 387.9,107.1 389.4,107.2 390.9,107.3 392.4,107.4 393.9,107.4 395.4,107.4 396.9,107.4 398.4,107.3 399.9,107.3 401.4,107.2 402.8,107.2 404.3,107.1 405.8,107.0 407.3,106.9 408.8,106.7 410.3,106.6 411.8,106.5 413.3,106.4 414.8,106.2 416.3,106.1 417.8,106.0 419.2,105.9 420.7,105.8 422.2,105.7 423.7,105.6 425.2,105.5 426.7,105.5 428.2,105.4 429.7,105.4 431.2,105.4 432.7,105.4 434.2,105.4 435.6,105.5 437.1,105.6 438.6,105.7 440.1,105.8 441.6,106.0 443.1,106.2 444.6,106.5 446.1,106.8 447.6,107.1 449.1,107.4 450.5,107.8 452.0,108.3 453.5,108.8 455.0,109.3 456.5,109.9 458.0,110.5 459.5,111.2 461.0,112.0 462.5,112.8 464.0,113.6 465.5,114.5 466.9,115.5 468.4,116.5 469.9,117.6 471.4,118.8 472.9,120.0 474.4,121.3 475.9,122.7 477.4,124.1 478.9,125.5 480.4,127.0 481.9,128.6 483.3,130.2 484.8,131.8 486.3,133.5 487.8,135.3 489.3,137.1 490.8,138.9 492.3,140.8 493.8,142.7 495.3,144.7 496.8,146.7 498.2,148.7 499.7,150.8 501.2,152.9 502.7,155.0 504.2,157.1 505.7,159.3 507.2,161.5 508.7,163.7 510.2,165.9 511.7,168.1 513.2,170.3 514.6,172.6 516.1,174.8 517.6,177.0 519.1,179.1 520.6,181.3 522.1,183.4 523.6,185.5 525.1,187.6 526.6,189.6 528.1,191.6 529.6,193.6 531.0,195.5 532.5,197.3 534.0,199.1 535.5,200.8 537.0,202.5 538.5,204.1 540.0,205.6 541.5,207.1 543.0,208.5 544.5,209.7 545.9,210.9 547.4,212.0 548.9,213.0 550.4,213.9 551.9,214.7 553.4,215.4" fill="none" stroke="#f00" stroke-width="1.8" stroke-dasharray="7.5 5.5"/></g><g clip-path="url(#kc11)"><polyline points="390.0,438.3 391.5,436.7 393.0,435.1 394.5,433.5 396.0,431.9 397.5,430.2 399.0,428.6 400.5,426.9 402.0,425.2 403.5,423.5 405.0,421.8 406.5,420.1 408.0,418.4 409.5,416.6 411.0,414.9 412.5,413.1 414.0,411.4 415.5,409.6 417.0,407.8 418.5,406.0 420.0,404.2 421.5,402.4 423.0,400.6 424.5,398.8 426.0,397.0 427.5,395.1 429.0,393.3 430.5,391.5 432.0,389.6 433.5,387.8 435.0,385.9 436.5,384.1 438.0,382.3 439.5,380.4 441.0,378.6 442.5,376.7 444.0,374.9 445.5,373.1 447.0,371.2 448.5,369.4 450.0,367.6 451.5,365.8 453.0,363.9 454.5,362.1 456.0,360.3 457.5,358.5 459.0,356.7 460.5,354.9 462.0,353.2 463.5,351.4 465.0,349.6 466.5,347.9 468.0,346.2 469.5,344.4 471.0,342.7 472.4,341.0 473.9,339.3 475.4,337.6 476.9,335.9 478.4,334.3 479.9,332.7 481.4,331.0 482.9,329.4 484.4,327.8 485.9,326.2 487.4,324.7 488.9,323.1 490.4,321.6 491.9,320.1 493.4,318.6 494.9,317.1 496.4,315.7 497.9,314.3 499.4,312.9 500.9,311.5 502.4,310.1 503.9,308.8 505.4,307.4 506.9,306.2 508.4,304.9 509.9,303.6 511.4,302.4 512.9,301.2 514.4,300.1 515.9,298.9 517.4,297.8 518.9,296.7 520.4,295.7 521.9,294.6 523.4,293.6 524.9,292.7 526.4,291.7 527.9,290.8 529.4,290.0 530.9,289.1 532.4,288.3 533.9,287.5 535.4,286.8 536.9,286.1 538.4,285.4 539.9,284.8 541.4,284.2 542.9,283.6 544.4,283.1 545.9,282.6 547.4,282.2 548.9,281.7 550.4,281.4 551.9,281.0 553.4,280.7" fill="none" stroke="#000" stroke-width="1.8" stroke-linejoin="round"/><polyline points="419.5,440.7 421.0,437.8 422.5,434.8 424.0,431.9 425.5,428.9 426.9,426.0 428.4,423.0 429.9,420.1 431.4,417.2 432.9,414.3 434.4,411.4 435.9,408.6 437.4,405.7 438.8,402.8 440.3,400.0 441.8,397.2 443.3,394.4 444.8,391.6 446.3,388.9 447.8,386.1 449.3,383.4 450.7,380.7 452.2,378.0 453.7,375.3 455.2,372.7 456.7,370.1 458.2,367.5 459.7,364.9 461.2,362.4 462.6,359.9 464.1,357.4 465.6,355.0 467.1,352.5 468.6,350.1 470.1,347.8 471.6,345.4 473.1,343.1 474.5,340.9 476.0,338.7 477.5,336.5 479.0,334.3 480.5,332.2 482.0,330.1 483.5,328.1 485.0,326.0 486.4,324.1 487.9,322.2 489.4,320.3 490.9,318.4 492.4,316.6 493.9,314.9 495.4,313.2 496.9,311.5 498.4,309.9 499.8,308.3 501.3,306.8 502.8,305.3 504.3,303.9 505.8,302.6 507.3,301.2 508.8,300.0 510.3,298.8 511.7,297.6 513.2,296.5 514.7,295.4 516.2,294.5 517.7,293.5 519.2,292.6 520.7,291.8 522.2,291.1 523.6,290.4 525.1,289.7 526.6,289.2 528.1,288.6 529.6,288.2 531.1,287.8 532.6,287.5 534.1,287.2 535.5,287.1 537.0,286.9 538.5,286.9 540.0,286.9 541.5,287.0 543.0,287.2 544.5,287.4 546.0,287.7 547.4,288.1 548.9,288.5 550.4,289.1 551.9,289.7 553.4,290.3" fill="none" stroke="#f00" stroke-width="1.8" stroke-dasharray="7.5 5.5"/></g><g clip-path="url(#kc21)"><polyline points="379.0,506.4 553.0,506.4" fill="none" stroke="#000" stroke-width="1.8" stroke-linejoin="round"/><polyline points="379.0,506.4 553.0,506.4" fill="none" stroke="#f00" stroke-width="1.8" stroke-dasharray="7.5 5.5"/></g>
<g font-family="Liberation Sans" font-weight="bold" font-size="18" fill="#000"><text transform="translate(71.20,111.90) scale(0.91,1)" text-anchor="end">12</text><text transform="translate(71.20,165.46) scale(0.91,1)" text-anchor="end">10</text><text transform="translate(71.20,219.01) scale(0.91,1)" text-anchor="end">8</text><text transform="translate(71.20,272.57) scale(0.91,1)" text-anchor="end">6</text><text transform="translate(71.20,326.12) scale(0.91,1)" text-anchor="end">8</text><text transform="translate(71.20,379.68) scale(0.91,1)" text-anchor="end">6</text><text transform="translate(71.20,433.23) scale(0.91,1)" text-anchor="end">4</text><text transform="translate(71.20,490.61) scale(0.91,1)" text-anchor="end">5</text><text transform="translate(71.20,547.99) scale(0.91,1)" text-anchor="end">0</text><text transform="translate(361.20,111.90) scale(0.91,1)" text-anchor="end">0</text><text transform="translate(361.20,152.07) scale(0.91,1)" text-anchor="end">1</text><rect x="340" y="144.97" width="10" height="2.1"/><text transform="translate(361.20,192.24) scale(0.91,1)" text-anchor="end">2</text><rect x="340" y="185.14" width="10" height="2.1"/><text transform="translate(361.20,232.40) scale(0.91,1)" text-anchor="end">3</text><rect x="340" y="225.30" width="10" height="2.1"/><text transform="translate(361.20,272.57) scale(0.91,1)" text-anchor="end">4</text><rect x="340" y="265.47" width="10" height="2.1"/><text transform="translate(361.20,296.75) scale(0.91,1)" text-anchor="end">50</text><text transform="translate(361.20,352.90) scale(0.91,1)" text-anchor="end">10</text><text transform="translate(361.20,377.08) scale(0.91,1)" text-anchor="end">5</text><text transform="translate(361.20,433.23) scale(0.91,1)" text-anchor="end">1</text><text transform="translate(361.20,457.41) scale(0.91,1)" text-anchor="end">5</text><text transform="translate(361.20,513.56) scale(0.91,1)" text-anchor="end">1</text><text transform="translate(361.20,537.75) scale(0.91,1)" text-anchor="end">0.5</text><text transform="translate(361.20,593.90) scale(0.91,1)" text-anchor="end">0.1</text><text transform="translate(132.36,607.5) scale(0.92,1)" text-anchor="middle">0.01</text><text transform="translate(176.00,607.5) scale(0.92,1)" text-anchor="middle">0.1</text><text transform="translate(219.64,607.5) scale(0.92,1)" text-anchor="middle">1</text><text transform="translate(263.27,607.5) scale(0.92,1)" text-anchor="middle">10</text><text transform="translate(89.73,607.5) scale(0.92,1)" text-anchor="middle">10<tspan font-size="11.5" dy="-5.5">&#8722;3</tspan></text><text transform="translate(422.36,607.5) scale(0.92,1)" text-anchor="middle">0.01</text><text transform="translate(466.00,607.5) scale(0.92,1)" text-anchor="middle">0.1</text><text transform="translate(509.64,607.5) scale(0.92,1)" text-anchor="middle">1</text><text transform="translate(553.27,607.5) scale(0.92,1)" text-anchor="middle">10</text><text transform="translate(379.73,607.5) scale(0.92,1)" text-anchor="middle">10<tspan font-size="11.5" dy="-5.5">&#8722;3</tspan></text></g>
<text x="217" y="98.9" font-family="Liberation Serif" font-weight="bold" font-size="17" fill="#8800dd" stroke="#8800dd" stroke-width="0.45" textLength="206.5" lengthAdjust="spacingAndGlyphs">PlumCoreIso<tspan dy="-2">_</tspan><tspan dy="2">100</tspan><tspan dy="-2">_</tspan><tspan dy="2">9</tspan><tspan dy="-2">_</tspan><tspan dy="2">hard</tspan></text>
<g font-family="Liberation Serif" font-weight="bold" font-size="19.5" fill="#000">
<text x="176" y="629.6" text-anchor="middle" textLength="101" lengthAdjust="spacingAndGlyphs">radius (kpc)</text>
<text x="466" y="629.6" text-anchor="middle" textLength="101" lengthAdjust="spacingAndGlyphs">radius (kpc)</text>
</g>
<g font-family="Liberation Serif" font-weight="bold" font-size="19.5" fill="#000"><text transform="translate(38,185.85) rotate(-90)" text-anchor="middle" textLength="135.7" lengthAdjust="spacingAndGlyphs">log <tspan font-style="italic">r</tspan><tspan font-size="11" dy="-7">2</tspan><tspan dy="7" font-style="italic">&#961;</tspan> (M<tspan font-size="11" dy="4">o</tspan><tspan dy="-4">/kpc)</tspan></text><text transform="translate(48.3,346.3) rotate(-90)" text-anchor="middle" textLength="83.3" lengthAdjust="spacingAndGlyphs">log <tspan font-style="italic">M</tspan> (M<tspan font-size="11" dy="4">o</tspan><tspan dy="-4">)</tspan></text><text transform="translate(48.3,506.7) rotate(-90)" text-anchor="middle" textLength="137.5" lengthAdjust="spacingAndGlyphs">log <tspan font-style="italic">r</tspan><tspan font-size="11" dy="-7">2</tspan><tspan dy="7" font-style="italic">&#957;</tspan> (M<tspan font-size="11" dy="4">o</tspan><tspan dy="-4">/kpc)</tspan></text><text transform="translate(326.2,184.85) rotate(-90)" text-anchor="middle" textLength="103.1" lengthAdjust="spacingAndGlyphs">d ln&#961; / d ln<tspan font-style="italic">r</tspan></text><text transform="translate(327.9,347) rotate(-90)" text-anchor="middle" textLength="93.1" lengthAdjust="spacingAndGlyphs">v<tspan font-size="11" dy="4">circ</tspan><tspan dy="-4"> (km/s)</tspan></text><text transform="translate(322.7,505.8) rotate(-90)" text-anchor="middle" textLength="49.9" lengthAdjust="spacingAndGlyphs">&#963;<tspan font-size="11" dy="4">r</tspan><tspan dy="-4"> / &#963;</tspan><tspan font-size="11" dy="4">&#952;</tspan></text></g>
</svg>
</body></html>
